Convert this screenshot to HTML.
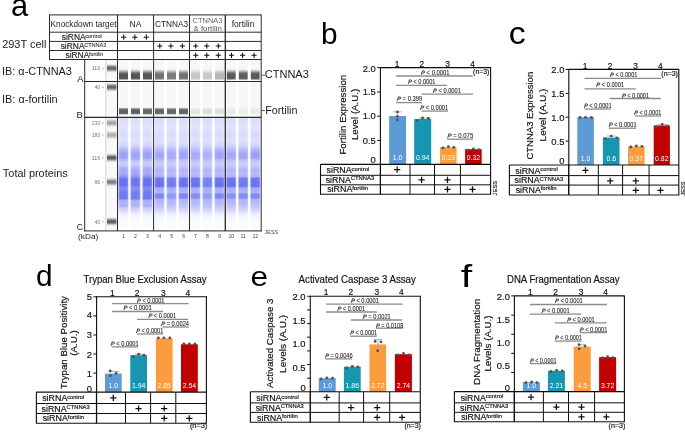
<!DOCTYPE html>
<html><head><meta charset="utf-8"><title>Figure</title>
<style>
html,body{margin:0;padding:0;background:#fff;overflow:hidden;}
svg{display:block;}
text{font-family:"Liberation Sans",sans-serif;}
.ch text{stroke:#1a1a1a;stroke-width:0.18px;}
.ch text[fill="#fff"],.ch text[fill="#000"],.ch text.nos{stroke:none;}
</style></head>
<body>
<svg style="will-change:transform" width="685" height="434" viewBox="0 0 685 434">
<defs><linearGradient id="lg0" x1="0" y1="0" x2="0" y2="1"><stop offset="0.0000" stop-color="rgb(219,221,253)"/><stop offset="0.0488" stop-color="rgb(219,221,253)"/><stop offset="0.0727" stop-color="rgb(226,228,253)"/><stop offset="0.0975" stop-color="rgb(221,223,253)"/><stop offset="0.1436" stop-color="rgb(219,221,253)"/><stop offset="0.1569" stop-color="rgb(212,214,253)"/><stop offset="0.1746" stop-color="rgb(221,223,253)"/><stop offset="0.2145" stop-color="rgb(219,221,253)"/><stop offset="0.2500" stop-color="rgb(205,207,252)"/><stop offset="0.2810" stop-color="rgb(179,184,251)"/><stop offset="0.3165" stop-color="rgb(154,160,249)"/><stop offset="0.3520" stop-color="rgb(154,160,249)"/><stop offset="0.3785" stop-color="rgb(183,187,251)"/><stop offset="0.4007" stop-color="rgb(201,204,252)"/><stop offset="0.4273" stop-color="rgb(192,196,252)"/><stop offset="0.4539" stop-color="rgb(165,170,250)"/><stop offset="0.4894" stop-color="rgb(161,167,250)"/><stop offset="0.5160" stop-color="rgb(147,153,249)"/><stop offset="0.5426" stop-color="rgb(102,110,246)"/><stop offset="0.5957" stop-color="rgb(98,107,246)"/><stop offset="0.6179" stop-color="rgb(125,133,248)"/><stop offset="0.6401" stop-color="rgb(129,136,248)"/><stop offset="0.6578" stop-color="rgb(111,119,247)"/><stop offset="0.7154" stop-color="rgb(107,116,247)"/><stop offset="0.7332" stop-color="rgb(165,170,250)"/><stop offset="0.7553" stop-color="rgb(174,178,250)"/><stop offset="0.7775" stop-color="rgb(165,170,250)"/><stop offset="0.7996" stop-color="rgb(197,201,252)"/><stop offset="0.8262" stop-color="rgb(215,218,253)"/><stop offset="0.8528" stop-color="rgb(237,238,254)"/><stop offset="0.8794" stop-color="rgb(246,246,254)"/><stop offset="0.9415" stop-color="rgb(250,250,255)"/><stop offset="1.0000" stop-color="rgb(253,253,255)"/></linearGradient>
<linearGradient id="lg1" x1="0" y1="0" x2="0" y2="1"><stop offset="0.0000" stop-color="rgb(220,222,253)"/><stop offset="0.0488" stop-color="rgb(220,222,253)"/><stop offset="0.0727" stop-color="rgb(227,229,253)"/><stop offset="0.0975" stop-color="rgb(222,224,253)"/><stop offset="0.1436" stop-color="rgb(220,222,253)"/><stop offset="0.1569" stop-color="rgb(213,215,253)"/><stop offset="0.1746" stop-color="rgb(222,224,253)"/><stop offset="0.2145" stop-color="rgb(220,222,253)"/><stop offset="0.2500" stop-color="rgb(206,209,252)"/><stop offset="0.2810" stop-color="rgb(182,186,251)"/><stop offset="0.3165" stop-color="rgb(157,163,250)"/><stop offset="0.3520" stop-color="rgb(157,163,250)"/><stop offset="0.3785" stop-color="rgb(185,189,251)"/><stop offset="0.4007" stop-color="rgb(203,206,252)"/><stop offset="0.4273" stop-color="rgb(194,197,252)"/><stop offset="0.4539" stop-color="rgb(168,173,250)"/><stop offset="0.4894" stop-color="rgb(164,169,250)"/><stop offset="0.5160" stop-color="rgb(150,156,249)"/><stop offset="0.5426" stop-color="rgb(107,115,247)"/><stop offset="0.5957" stop-color="rgb(103,112,247)"/><stop offset="0.6179" stop-color="rgb(129,136,248)"/><stop offset="0.6401" stop-color="rgb(133,140,248)"/><stop offset="0.6578" stop-color="rgb(115,123,247)"/><stop offset="0.7154" stop-color="rgb(112,120,247)"/><stop offset="0.7332" stop-color="rgb(168,173,250)"/><stop offset="0.7553" stop-color="rgb(176,181,251)"/><stop offset="0.7775" stop-color="rgb(168,173,250)"/><stop offset="0.7996" stop-color="rgb(199,202,252)"/><stop offset="0.8262" stop-color="rgb(217,219,253)"/><stop offset="0.8528" stop-color="rgb(238,239,254)"/><stop offset="0.8794" stop-color="rgb(246,247,255)"/><stop offset="0.9415" stop-color="rgb(250,250,255)"/><stop offset="1.0000" stop-color="rgb(253,253,255)"/></linearGradient>
<linearGradient id="lg2" x1="0" y1="0" x2="0" y2="1"><stop offset="0.0000" stop-color="rgb(219,221,253)"/><stop offset="0.0488" stop-color="rgb(219,221,253)"/><stop offset="0.0727" stop-color="rgb(226,228,253)"/><stop offset="0.0975" stop-color="rgb(221,223,253)"/><stop offset="0.1436" stop-color="rgb(219,221,253)"/><stop offset="0.1569" stop-color="rgb(212,214,253)"/><stop offset="0.1746" stop-color="rgb(221,223,253)"/><stop offset="0.2145" stop-color="rgb(219,221,253)"/><stop offset="0.2500" stop-color="rgb(205,207,252)"/><stop offset="0.2810" stop-color="rgb(179,184,251)"/><stop offset="0.3165" stop-color="rgb(154,160,249)"/><stop offset="0.3520" stop-color="rgb(154,160,249)"/><stop offset="0.3785" stop-color="rgb(183,187,251)"/><stop offset="0.4007" stop-color="rgb(201,204,252)"/><stop offset="0.4273" stop-color="rgb(192,196,252)"/><stop offset="0.4539" stop-color="rgb(165,170,250)"/><stop offset="0.4894" stop-color="rgb(161,167,250)"/><stop offset="0.5160" stop-color="rgb(147,153,249)"/><stop offset="0.5426" stop-color="rgb(102,110,246)"/><stop offset="0.5957" stop-color="rgb(98,107,246)"/><stop offset="0.6179" stop-color="rgb(125,133,248)"/><stop offset="0.6401" stop-color="rgb(129,136,248)"/><stop offset="0.6578" stop-color="rgb(111,119,247)"/><stop offset="0.7154" stop-color="rgb(107,116,247)"/><stop offset="0.7332" stop-color="rgb(165,170,250)"/><stop offset="0.7553" stop-color="rgb(174,178,250)"/><stop offset="0.7775" stop-color="rgb(165,170,250)"/><stop offset="0.7996" stop-color="rgb(197,201,252)"/><stop offset="0.8262" stop-color="rgb(215,218,253)"/><stop offset="0.8528" stop-color="rgb(237,238,254)"/><stop offset="0.8794" stop-color="rgb(246,246,254)"/><stop offset="0.9415" stop-color="rgb(250,250,255)"/><stop offset="1.0000" stop-color="rgb(253,253,255)"/></linearGradient>
<linearGradient id="lg3" x1="0" y1="0" x2="0" y2="1"><stop offset="0.0000" stop-color="rgb(219,221,253)"/><stop offset="0.0488" stop-color="rgb(219,221,253)"/><stop offset="0.0727" stop-color="rgb(226,228,253)"/><stop offset="0.0975" stop-color="rgb(221,223,253)"/><stop offset="0.1436" stop-color="rgb(219,221,253)"/><stop offset="0.1569" stop-color="rgb(212,214,253)"/><stop offset="0.1746" stop-color="rgb(221,223,253)"/><stop offset="0.2145" stop-color="rgb(219,221,253)"/><stop offset="0.2500" stop-color="rgb(206,209,252)"/><stop offset="0.2810" stop-color="rgb(183,187,251)"/><stop offset="0.3165" stop-color="rgb(161,166,250)"/><stop offset="0.3520" stop-color="rgb(161,166,250)"/><stop offset="0.3785" stop-color="rgb(187,190,251)"/><stop offset="0.4007" stop-color="rgb(201,204,252)"/><stop offset="0.4273" stop-color="rgb(196,199,252)"/><stop offset="0.4539" stop-color="rgb(179,184,251)"/><stop offset="0.4716" stop-color="rgb(174,178,250)"/><stop offset="0.4894" stop-color="rgb(183,187,251)"/><stop offset="0.5204" stop-color="rgb(174,178,250)"/><stop offset="0.5363" stop-color="rgb(107,116,247)"/><stop offset="0.6073" stop-color="rgb(100,109,246)"/><stop offset="0.6223" stop-color="rgb(165,170,250)"/><stop offset="0.6622" stop-color="rgb(172,177,250)"/><stop offset="0.6782" stop-color="rgb(125,133,248)"/><stop offset="0.7092" stop-color="rgb(125,133,248)"/><stop offset="0.7252" stop-color="rgb(176,180,251)"/><stop offset="0.7553" stop-color="rgb(179,184,251)"/><stop offset="0.7819" stop-color="rgb(190,194,251)"/><stop offset="0.8085" stop-color="rgb(205,207,252)"/><stop offset="0.8351" stop-color="rgb(224,226,253)"/><stop offset="0.8617" stop-color="rgb(239,240,254)"/><stop offset="0.9060" stop-color="rgb(248,248,255)"/><stop offset="1.0000" stop-color="rgb(253,253,255)"/></linearGradient>
<linearGradient id="lg4" x1="0" y1="0" x2="0" y2="1"><stop offset="0.0000" stop-color="rgb(219,221,253)"/><stop offset="0.0488" stop-color="rgb(219,221,253)"/><stop offset="0.0727" stop-color="rgb(226,228,253)"/><stop offset="0.0975" stop-color="rgb(221,223,253)"/><stop offset="0.1436" stop-color="rgb(219,221,253)"/><stop offset="0.1569" stop-color="rgb(212,214,253)"/><stop offset="0.1746" stop-color="rgb(221,223,253)"/><stop offset="0.2145" stop-color="rgb(219,221,253)"/><stop offset="0.2500" stop-color="rgb(206,209,252)"/><stop offset="0.2810" stop-color="rgb(185,189,251)"/><stop offset="0.3165" stop-color="rgb(164,169,250)"/><stop offset="0.3520" stop-color="rgb(164,169,250)"/><stop offset="0.3785" stop-color="rgb(187,190,251)"/><stop offset="0.4007" stop-color="rgb(201,204,252)"/><stop offset="0.4273" stop-color="rgb(196,199,252)"/><stop offset="0.4539" stop-color="rgb(179,184,251)"/><stop offset="0.4716" stop-color="rgb(174,178,250)"/><stop offset="0.4894" stop-color="rgb(183,187,251)"/><stop offset="0.5204" stop-color="rgb(174,178,250)"/><stop offset="0.5363" stop-color="rgb(115,123,247)"/><stop offset="0.6073" stop-color="rgb(108,116,247)"/><stop offset="0.6223" stop-color="rgb(165,170,250)"/><stop offset="0.6622" stop-color="rgb(172,177,250)"/><stop offset="0.6782" stop-color="rgb(143,149,249)"/><stop offset="0.7092" stop-color="rgb(143,149,249)"/><stop offset="0.7252" stop-color="rgb(176,180,251)"/><stop offset="0.7553" stop-color="rgb(179,184,251)"/><stop offset="0.7819" stop-color="rgb(190,194,251)"/><stop offset="0.8085" stop-color="rgb(205,207,252)"/><stop offset="0.8351" stop-color="rgb(224,226,253)"/><stop offset="0.8617" stop-color="rgb(239,240,254)"/><stop offset="0.9060" stop-color="rgb(248,248,255)"/><stop offset="1.0000" stop-color="rgb(253,253,255)"/></linearGradient>
<linearGradient id="lg5" x1="0" y1="0" x2="0" y2="1"><stop offset="0.0000" stop-color="rgb(219,221,253)"/><stop offset="0.0488" stop-color="rgb(219,221,253)"/><stop offset="0.0727" stop-color="rgb(226,228,253)"/><stop offset="0.0975" stop-color="rgb(221,223,253)"/><stop offset="0.1436" stop-color="rgb(219,221,253)"/><stop offset="0.1569" stop-color="rgb(212,214,253)"/><stop offset="0.1746" stop-color="rgb(221,223,253)"/><stop offset="0.2145" stop-color="rgb(219,221,253)"/><stop offset="0.2500" stop-color="rgb(206,209,252)"/><stop offset="0.2810" stop-color="rgb(179,184,251)"/><stop offset="0.3165" stop-color="rgb(156,162,250)"/><stop offset="0.3520" stop-color="rgb(156,162,250)"/><stop offset="0.3785" stop-color="rgb(187,190,251)"/><stop offset="0.4007" stop-color="rgb(201,204,252)"/><stop offset="0.4273" stop-color="rgb(196,199,252)"/><stop offset="0.4539" stop-color="rgb(179,184,251)"/><stop offset="0.4716" stop-color="rgb(174,178,250)"/><stop offset="0.4894" stop-color="rgb(183,187,251)"/><stop offset="0.5204" stop-color="rgb(174,178,250)"/><stop offset="0.5363" stop-color="rgb(107,116,247)"/><stop offset="0.6073" stop-color="rgb(100,109,246)"/><stop offset="0.6223" stop-color="rgb(165,170,250)"/><stop offset="0.6622" stop-color="rgb(172,177,250)"/><stop offset="0.6782" stop-color="rgb(123,131,248)"/><stop offset="0.7092" stop-color="rgb(123,131,248)"/><stop offset="0.7252" stop-color="rgb(176,180,251)"/><stop offset="0.7553" stop-color="rgb(179,184,251)"/><stop offset="0.7819" stop-color="rgb(190,194,251)"/><stop offset="0.8085" stop-color="rgb(205,207,252)"/><stop offset="0.8351" stop-color="rgb(224,226,253)"/><stop offset="0.8617" stop-color="rgb(239,240,254)"/><stop offset="0.9060" stop-color="rgb(248,248,255)"/><stop offset="1.0000" stop-color="rgb(253,253,255)"/></linearGradient>
<linearGradient id="lg6" x1="0" y1="0" x2="0" y2="1"><stop offset="0.0000" stop-color="rgb(219,221,253)"/><stop offset="0.0488" stop-color="rgb(219,221,253)"/><stop offset="0.0727" stop-color="rgb(226,228,253)"/><stop offset="0.0975" stop-color="rgb(221,223,253)"/><stop offset="0.1436" stop-color="rgb(219,221,253)"/><stop offset="0.1569" stop-color="rgb(212,214,253)"/><stop offset="0.1746" stop-color="rgb(221,223,253)"/><stop offset="0.2145" stop-color="rgb(219,221,253)"/><stop offset="0.2500" stop-color="rgb(206,209,252)"/><stop offset="0.2810" stop-color="rgb(187,191,251)"/><stop offset="0.3165" stop-color="rgb(166,171,250)"/><stop offset="0.3520" stop-color="rgb(166,171,250)"/><stop offset="0.3785" stop-color="rgb(187,190,251)"/><stop offset="0.4007" stop-color="rgb(201,204,252)"/><stop offset="0.4273" stop-color="rgb(196,199,252)"/><stop offset="0.4539" stop-color="rgb(179,184,251)"/><stop offset="0.4716" stop-color="rgb(174,178,250)"/><stop offset="0.4894" stop-color="rgb(183,187,251)"/><stop offset="0.5204" stop-color="rgb(174,178,250)"/><stop offset="0.5363" stop-color="rgb(107,116,247)"/><stop offset="0.6073" stop-color="rgb(100,109,246)"/><stop offset="0.6223" stop-color="rgb(165,170,250)"/><stop offset="0.6622" stop-color="rgb(172,177,250)"/><stop offset="0.6782" stop-color="rgb(129,136,248)"/><stop offset="0.7092" stop-color="rgb(129,136,248)"/><stop offset="0.7252" stop-color="rgb(176,180,251)"/><stop offset="0.7553" stop-color="rgb(179,184,251)"/><stop offset="0.7819" stop-color="rgb(190,194,251)"/><stop offset="0.8085" stop-color="rgb(205,207,252)"/><stop offset="0.8351" stop-color="rgb(224,226,253)"/><stop offset="0.8617" stop-color="rgb(239,240,254)"/><stop offset="0.9060" stop-color="rgb(248,248,255)"/><stop offset="1.0000" stop-color="rgb(253,253,255)"/></linearGradient>
<linearGradient id="lg7" x1="0" y1="0" x2="0" y2="1"><stop offset="0.0000" stop-color="rgb(219,221,253)"/><stop offset="0.0488" stop-color="rgb(219,221,253)"/><stop offset="0.0727" stop-color="rgb(226,228,253)"/><stop offset="0.0975" stop-color="rgb(221,223,253)"/><stop offset="0.1436" stop-color="rgb(219,221,253)"/><stop offset="0.1569" stop-color="rgb(212,214,253)"/><stop offset="0.1746" stop-color="rgb(221,223,253)"/><stop offset="0.2145" stop-color="rgb(219,221,253)"/><stop offset="0.2500" stop-color="rgb(206,209,252)"/><stop offset="0.2810" stop-color="rgb(191,194,251)"/><stop offset="0.3165" stop-color="rgb(171,176,250)"/><stop offset="0.3520" stop-color="rgb(171,176,250)"/><stop offset="0.3785" stop-color="rgb(187,190,251)"/><stop offset="0.4007" stop-color="rgb(201,204,252)"/><stop offset="0.4273" stop-color="rgb(196,199,252)"/><stop offset="0.4539" stop-color="rgb(179,184,251)"/><stop offset="0.4716" stop-color="rgb(174,178,250)"/><stop offset="0.4894" stop-color="rgb(183,187,251)"/><stop offset="0.5204" stop-color="rgb(174,178,250)"/><stop offset="0.5363" stop-color="rgb(122,130,248)"/><stop offset="0.6073" stop-color="rgb(116,123,247)"/><stop offset="0.6223" stop-color="rgb(165,170,250)"/><stop offset="0.6622" stop-color="rgb(172,177,250)"/><stop offset="0.6782" stop-color="rgb(147,153,249)"/><stop offset="0.7092" stop-color="rgb(147,153,249)"/><stop offset="0.7252" stop-color="rgb(176,180,251)"/><stop offset="0.7553" stop-color="rgb(179,184,251)"/><stop offset="0.7819" stop-color="rgb(190,194,251)"/><stop offset="0.8085" stop-color="rgb(205,207,252)"/><stop offset="0.8351" stop-color="rgb(224,226,253)"/><stop offset="0.8617" stop-color="rgb(239,240,254)"/><stop offset="0.9060" stop-color="rgb(248,248,255)"/><stop offset="1.0000" stop-color="rgb(253,253,255)"/></linearGradient>
<linearGradient id="lg8" x1="0" y1="0" x2="0" y2="1"><stop offset="0.0000" stop-color="rgb(219,221,253)"/><stop offset="0.0488" stop-color="rgb(219,221,253)"/><stop offset="0.0727" stop-color="rgb(226,228,253)"/><stop offset="0.0975" stop-color="rgb(221,223,253)"/><stop offset="0.1436" stop-color="rgb(219,221,253)"/><stop offset="0.1569" stop-color="rgb(212,214,253)"/><stop offset="0.1746" stop-color="rgb(221,223,253)"/><stop offset="0.2145" stop-color="rgb(219,221,253)"/><stop offset="0.2500" stop-color="rgb(206,209,252)"/><stop offset="0.2810" stop-color="rgb(179,184,251)"/><stop offset="0.3165" stop-color="rgb(156,162,250)"/><stop offset="0.3520" stop-color="rgb(156,162,250)"/><stop offset="0.3785" stop-color="rgb(187,190,251)"/><stop offset="0.4007" stop-color="rgb(201,204,252)"/><stop offset="0.4273" stop-color="rgb(196,199,252)"/><stop offset="0.4539" stop-color="rgb(179,184,251)"/><stop offset="0.4716" stop-color="rgb(174,178,250)"/><stop offset="0.4894" stop-color="rgb(183,187,251)"/><stop offset="0.5204" stop-color="rgb(174,178,250)"/><stop offset="0.5363" stop-color="rgb(107,116,247)"/><stop offset="0.6073" stop-color="rgb(100,109,246)"/><stop offset="0.6223" stop-color="rgb(165,170,250)"/><stop offset="0.6622" stop-color="rgb(172,177,250)"/><stop offset="0.6782" stop-color="rgb(125,133,248)"/><stop offset="0.7092" stop-color="rgb(125,133,248)"/><stop offset="0.7252" stop-color="rgb(176,180,251)"/><stop offset="0.7553" stop-color="rgb(179,184,251)"/><stop offset="0.7819" stop-color="rgb(190,194,251)"/><stop offset="0.8085" stop-color="rgb(205,207,252)"/><stop offset="0.8351" stop-color="rgb(224,226,253)"/><stop offset="0.8617" stop-color="rgb(239,240,254)"/><stop offset="0.9060" stop-color="rgb(248,248,255)"/><stop offset="1.0000" stop-color="rgb(253,253,255)"/></linearGradient>
<linearGradient id="lg9" x1="0" y1="0" x2="0" y2="1"><stop offset="0.0000" stop-color="rgb(219,221,253)"/><stop offset="0.0488" stop-color="rgb(219,221,253)"/><stop offset="0.0727" stop-color="rgb(226,228,253)"/><stop offset="0.0975" stop-color="rgb(221,223,253)"/><stop offset="0.1436" stop-color="rgb(219,221,253)"/><stop offset="0.1569" stop-color="rgb(212,214,253)"/><stop offset="0.1746" stop-color="rgb(221,223,253)"/><stop offset="0.2145" stop-color="rgb(219,221,253)"/><stop offset="0.2500" stop-color="rgb(206,209,252)"/><stop offset="0.2810" stop-color="rgb(183,187,251)"/><stop offset="0.3165" stop-color="rgb(161,166,250)"/><stop offset="0.3520" stop-color="rgb(161,166,250)"/><stop offset="0.3785" stop-color="rgb(187,190,251)"/><stop offset="0.4007" stop-color="rgb(201,204,252)"/><stop offset="0.4273" stop-color="rgb(196,199,252)"/><stop offset="0.4539" stop-color="rgb(179,184,251)"/><stop offset="0.4716" stop-color="rgb(174,178,250)"/><stop offset="0.4894" stop-color="rgb(183,187,251)"/><stop offset="0.5204" stop-color="rgb(174,178,250)"/><stop offset="0.5363" stop-color="rgb(107,116,247)"/><stop offset="0.6073" stop-color="rgb(100,109,246)"/><stop offset="0.6223" stop-color="rgb(165,170,250)"/><stop offset="0.6622" stop-color="rgb(172,177,250)"/><stop offset="0.6782" stop-color="rgb(135,142,248)"/><stop offset="0.7092" stop-color="rgb(135,142,248)"/><stop offset="0.7252" stop-color="rgb(176,180,251)"/><stop offset="0.7553" stop-color="rgb(179,184,251)"/><stop offset="0.7819" stop-color="rgb(190,194,251)"/><stop offset="0.8085" stop-color="rgb(205,207,252)"/><stop offset="0.8351" stop-color="rgb(224,226,253)"/><stop offset="0.8617" stop-color="rgb(239,240,254)"/><stop offset="0.9060" stop-color="rgb(248,248,255)"/><stop offset="1.0000" stop-color="rgb(253,253,255)"/></linearGradient>
<linearGradient id="lg10" x1="0" y1="0" x2="0" y2="1"><stop offset="0.0000" stop-color="rgb(219,221,253)"/><stop offset="0.0488" stop-color="rgb(219,221,253)"/><stop offset="0.0727" stop-color="rgb(226,228,253)"/><stop offset="0.0975" stop-color="rgb(221,223,253)"/><stop offset="0.1436" stop-color="rgb(219,221,253)"/><stop offset="0.1569" stop-color="rgb(212,214,253)"/><stop offset="0.1746" stop-color="rgb(221,223,253)"/><stop offset="0.2145" stop-color="rgb(219,221,253)"/><stop offset="0.2500" stop-color="rgb(206,209,252)"/><stop offset="0.2810" stop-color="rgb(183,187,251)"/><stop offset="0.3165" stop-color="rgb(161,166,250)"/><stop offset="0.3520" stop-color="rgb(161,166,250)"/><stop offset="0.3785" stop-color="rgb(187,190,251)"/><stop offset="0.4007" stop-color="rgb(201,204,252)"/><stop offset="0.4273" stop-color="rgb(196,199,252)"/><stop offset="0.4539" stop-color="rgb(179,184,251)"/><stop offset="0.4716" stop-color="rgb(174,178,250)"/><stop offset="0.4894" stop-color="rgb(183,187,251)"/><stop offset="0.5204" stop-color="rgb(174,178,250)"/><stop offset="0.5363" stop-color="rgb(115,123,247)"/><stop offset="0.6073" stop-color="rgb(108,116,247)"/><stop offset="0.6223" stop-color="rgb(165,170,250)"/><stop offset="0.6622" stop-color="rgb(172,177,250)"/><stop offset="0.6782" stop-color="rgb(129,136,248)"/><stop offset="0.7092" stop-color="rgb(129,136,248)"/><stop offset="0.7252" stop-color="rgb(176,180,251)"/><stop offset="0.7553" stop-color="rgb(179,184,251)"/><stop offset="0.7819" stop-color="rgb(190,194,251)"/><stop offset="0.8085" stop-color="rgb(205,207,252)"/><stop offset="0.8351" stop-color="rgb(224,226,253)"/><stop offset="0.8617" stop-color="rgb(239,240,254)"/><stop offset="0.9060" stop-color="rgb(248,248,255)"/><stop offset="1.0000" stop-color="rgb(253,253,255)"/></linearGradient>
<linearGradient id="lg11" x1="0" y1="0" x2="0" y2="1"><stop offset="0.0000" stop-color="rgb(219,221,253)"/><stop offset="0.0488" stop-color="rgb(219,221,253)"/><stop offset="0.0727" stop-color="rgb(226,228,253)"/><stop offset="0.0975" stop-color="rgb(221,223,253)"/><stop offset="0.1436" stop-color="rgb(219,221,253)"/><stop offset="0.1569" stop-color="rgb(212,214,253)"/><stop offset="0.1746" stop-color="rgb(221,223,253)"/><stop offset="0.2145" stop-color="rgb(219,221,253)"/><stop offset="0.2500" stop-color="rgb(206,209,252)"/><stop offset="0.2810" stop-color="rgb(176,180,251)"/><stop offset="0.3165" stop-color="rgb(151,157,249)"/><stop offset="0.3520" stop-color="rgb(151,157,249)"/><stop offset="0.3785" stop-color="rgb(187,190,251)"/><stop offset="0.4007" stop-color="rgb(201,204,252)"/><stop offset="0.4273" stop-color="rgb(196,199,252)"/><stop offset="0.4539" stop-color="rgb(179,184,251)"/><stop offset="0.4716" stop-color="rgb(174,178,250)"/><stop offset="0.4894" stop-color="rgb(183,187,251)"/><stop offset="0.5204" stop-color="rgb(174,178,250)"/><stop offset="0.5363" stop-color="rgb(107,116,247)"/><stop offset="0.6073" stop-color="rgb(100,109,246)"/><stop offset="0.6223" stop-color="rgb(165,170,250)"/><stop offset="0.6622" stop-color="rgb(172,177,250)"/><stop offset="0.6782" stop-color="rgb(125,133,248)"/><stop offset="0.7092" stop-color="rgb(125,133,248)"/><stop offset="0.7252" stop-color="rgb(176,180,251)"/><stop offset="0.7553" stop-color="rgb(179,184,251)"/><stop offset="0.7819" stop-color="rgb(190,194,251)"/><stop offset="0.8085" stop-color="rgb(205,207,252)"/><stop offset="0.8351" stop-color="rgb(224,226,253)"/><stop offset="0.8617" stop-color="rgb(239,240,254)"/><stop offset="0.9060" stop-color="rgb(248,248,255)"/><stop offset="1.0000" stop-color="rgb(253,253,255)"/></linearGradient>
<linearGradient id="edge" x1="0" y1="0" x2="1" y2="0"><stop offset="0" stop-color="#fff" stop-opacity="0.35"/><stop offset="0.12" stop-color="#fff" stop-opacity="0.05"/><stop offset="0.5" stop-color="#fff" stop-opacity="0"/><stop offset="0.88" stop-color="#fff" stop-opacity="0.05"/><stop offset="1" stop-color="#fff" stop-opacity="0.35"/></linearGradient>
<linearGradient id="gA" x1="0" y1="0" x2="0" y2="1"><stop offset="0" stop-color="#fff" stop-opacity="0"/><stop offset="0.12" stop-color="#fff" stop-opacity="0.18"/><stop offset="0.25" stop-color="#fff" stop-opacity="0.55"/><stop offset="0.38" stop-color="#fff" stop-opacity="0.88"/><stop offset="0.5" stop-color="#fff" stop-opacity="1"/><stop offset="0.85" stop-color="#fff" stop-opacity="1"/><stop offset="0.93" stop-color="#fff" stop-opacity="0.75"/><stop offset="1" stop-color="#fff" stop-opacity="0"/></linearGradient>
<mask id="mA" maskContentUnits="objectBoundingBox"><rect width="1" height="1" fill="url(#gA)"/></mask>
<linearGradient id="gB" x1="0" y1="0" x2="0" y2="1"><stop offset="0" stop-color="#fff" stop-opacity="0"/><stop offset="0.15" stop-color="#fff" stop-opacity="0.5"/><stop offset="0.3" stop-color="#fff" stop-opacity="0.9"/><stop offset="0.6" stop-color="#fff" stop-opacity="1"/><stop offset="0.85" stop-color="#fff" stop-opacity="0.85"/><stop offset="1" stop-color="#fff" stop-opacity="0"/></linearGradient>
<mask id="mB" maskContentUnits="objectBoundingBox"><rect width="1" height="1" fill="url(#gB)"/></mask>
<filter id="blx" x="-20%" y="-20%" width="140%" height="140%"><feGaussianBlur stdDeviation="0.45 0.2"/></filter>
<linearGradient id="fadeA" x1="0" y1="0" x2="0" y2="1"><stop offset="0" stop-color="#f2f2f2" stop-opacity="1"/><stop offset="1" stop-color="#f2f2f2" stop-opacity="0"/></linearGradient>
<filter id="gblur" x="0" y="0" width="685" height="434" filterUnits="userSpaceOnUse"><feGaussianBlur stdDeviation="0.3"/></filter>
<filter id="bl2" x="-30%" y="-60%" width="160%" height="220%"><feGaussianBlur stdDeviation="0.6 0.8"/></filter>
<filter id="bl" x="-20%" y="-50%" width="140%" height="200%"><feGaussianBlur stdDeviation="0.55"/></filter></defs>
<rect width="685" height="434" fill="#fff"/>
<g filter="url(#gblur)">
<text transform="translate(11.12,16.35) scale(1,1.17)" font-size="27" fill="#000" textLength="17.16" lengthAdjust="spacingAndGlyphs">a</text>
<text x="2.17" y="47.9" font-size="10.8" fill="#222" textLength="44.26" lengthAdjust="spacingAndGlyphs">293T cell</text>
<text x="1.98" y="74.8" font-size="10.6" fill="#222" textLength="69.95" lengthAdjust="spacingAndGlyphs">IB: α-CTNNA3</text>
<text x="1.98" y="102.9" font-size="10.6" fill="#222" textLength="55.75" lengthAdjust="spacingAndGlyphs">IB: α-fortilin</text>
<text x="2.86" y="177.1" font-size="11" fill="#222" textLength="64.88" lengthAdjust="spacingAndGlyphs">Total proteins</text>
<text x="50.56" y="27" font-size="8.6" fill="#222" textLength="65.99" lengthAdjust="spacingAndGlyphs">Knockdown target</text>
<text x="135.5" y="26.6" font-size="8.6" fill="#222" text-anchor="middle">NA</text>
<text x="154.96" y="26.6" font-size="8.6" fill="#222" textLength="33.09" lengthAdjust="spacingAndGlyphs">CTNNA3</text>
<text x="192.6" y="22.6" font-size="7.6" fill="#666" textLength="29.91" lengthAdjust="spacingAndGlyphs">CTNNA3</text>
<text x="193.5" y="30.6" font-size="7.6" fill="#555" textLength="28.31" lengthAdjust="spacingAndGlyphs">&amp; fortilin</text>
<text x="231.66" y="26.6" font-size="8.6" fill="#222" textLength="22.89" lengthAdjust="spacingAndGlyphs">fortilin</text>
<text x="61.76" y="40.2" font-size="8.4" fill="#222" textLength="23.87" lengthAdjust="spacingAndGlyphs" style="stroke:#222;stroke-width:0.15px">siRNA</text>
<text x="85.28" y="37.8" font-size="5.6" fill="#333" textLength="16.55" lengthAdjust="spacingAndGlyphs" style="stroke:#333;stroke-width:0.1px">control</text>
<text x="60.66" y="49.2" font-size="8.4" fill="#222" textLength="23.87" lengthAdjust="spacingAndGlyphs" style="stroke:#222;stroke-width:0.15px">siRNA</text>
<text x="84.18" y="46.8" font-size="5.6" fill="#333" textLength="22.25" lengthAdjust="spacingAndGlyphs" style="stroke:#333;stroke-width:0.1px">CTNNA3</text>
<text x="65.46" y="58.1" font-size="8.4" fill="#222" textLength="23.87" lengthAdjust="spacingAndGlyphs" style="stroke:#222;stroke-width:0.15px">siRNA</text>
<text x="88.98" y="55.7" font-size="5.6" fill="#333" textLength="14.35" lengthAdjust="spacingAndGlyphs" style="stroke:#333;stroke-width:0.1px">fortilin</text>
<path d="M121.1 37.2H126.3M123.7 34.6V39.8" stroke="#111" stroke-width="1.05" fill="none"/>
<path d="M132.2 37.2H137.4M134.8 34.6V39.8" stroke="#111" stroke-width="1.05" fill="none"/>
<path d="M143.7 37.2H148.9M146.3 34.6V39.8" stroke="#111" stroke-width="1.05" fill="none"/>
<path d="M157.2 46H162.4M159.8 43.4V48.6" stroke="#111" stroke-width="1.05" fill="none"/>
<path d="M168.3 46H173.5M170.9 43.4V48.6" stroke="#111" stroke-width="1.05" fill="none"/>
<path d="M179.8 46H185M182.4 43.4V48.6" stroke="#111" stroke-width="1.05" fill="none"/>
<path d="M193.1 46H198.3M195.7 43.4V48.6" stroke="#111" stroke-width="1.05" fill="none"/>
<path d="M204.2 46H209.4M206.8 43.4V48.6" stroke="#111" stroke-width="1.05" fill="none"/>
<path d="M215.7 46H220.9M218.3 43.4V48.6" stroke="#111" stroke-width="1.05" fill="none"/>
<path d="M193.1 55.3H198.3M195.7 52.7V57.9" stroke="#111" stroke-width="1.05" fill="none"/>
<path d="M204.2 55.3H209.4M206.8 52.7V57.9" stroke="#111" stroke-width="1.05" fill="none"/>
<path d="M215.7 55.3H220.9M218.3 52.7V57.9" stroke="#111" stroke-width="1.05" fill="none"/>
<path d="M228.9 55.3H234.1M231.5 52.7V57.9" stroke="#111" stroke-width="1.05" fill="none"/>
<path d="M240 55.3H245.2M242.6 52.7V57.9" stroke="#111" stroke-width="1.05" fill="none"/>
<path d="M251.5 55.3H256.7M254.1 52.7V57.9" stroke="#111" stroke-width="1.05" fill="none"/>
<rect x="105.7" y="59.5" width="11.5" height="171.4" fill="#f8f8f8"/>
<line x1="105.8" y1="59.5" x2="105.8" y2="230.9" stroke="#c4c4c4" stroke-width="0.7"/>
<rect x="118.7" y="59.5" width="9.4" height="57.8" fill="#f7f7f7"/>
<rect x="130.7" y="59.5" width="9.4" height="57.8" fill="#f7f7f7"/>
<rect x="142.7" y="59.5" width="9.4" height="57.8" fill="#f7f7f7"/>
<rect x="154.8" y="59.5" width="9.4" height="57.8" fill="#f7f7f7"/>
<rect x="166.8" y="59.5" width="9.4" height="57.8" fill="#f7f7f7"/>
<rect x="178.8" y="59.5" width="9.4" height="57.8" fill="#f7f7f7"/>
<rect x="190.7" y="59.5" width="9.4" height="57.8" fill="#f7f7f7"/>
<rect x="202.7" y="59.5" width="9.4" height="57.8" fill="#f7f7f7"/>
<rect x="214.7" y="59.5" width="9.4" height="57.8" fill="#f7f7f7"/>
<rect x="226.5" y="59.5" width="9.4" height="57.8" fill="#f7f7f7"/>
<rect x="238.5" y="59.5" width="9.4" height="57.8" fill="#f7f7f7"/>
<rect x="250.5" y="59.5" width="9.4" height="57.8" fill="#f7f7f7"/>
<rect x="118.8" y="68.9" width="9.2" height="11.1" fill="#555" mask="url(#mA)" filter="url(#blx)"/>
<rect x="130.8" y="68.9" width="9.2" height="11.1" fill="#555" mask="url(#mA)" filter="url(#blx)"/>
<rect x="142.8" y="68.9" width="9.2" height="11.1" fill="#575757" mask="url(#mA)" filter="url(#blx)"/>
<rect x="154.9" y="68.9" width="9.2" height="11.1" fill="#737373" mask="url(#mA)" filter="url(#blx)"/>
<rect x="166.9" y="68.9" width="9.2" height="11.1" fill="#7c7c7c" mask="url(#mA)" filter="url(#blx)"/>
<rect x="178.9" y="68.9" width="9.2" height="11.1" fill="#717171" mask="url(#mA)" filter="url(#blx)"/>
<rect x="190.8" y="68.9" width="9.2" height="11.1" fill="#c6c6c6" mask="url(#mA)" filter="url(#blx)"/>
<rect x="202.8" y="68.9" width="9.2" height="11.1" fill="#c8c8c8" mask="url(#mA)" filter="url(#blx)"/>
<rect x="214.8" y="68.9" width="9.2" height="11.1" fill="#b6b6b6" mask="url(#mA)" filter="url(#blx)"/>
<rect x="226.6" y="68.9" width="9.2" height="11.1" fill="#5a5a5a" mask="url(#mA)" filter="url(#blx)"/>
<rect x="238.6" y="68.9" width="9.2" height="11.1" fill="#5c5c5c" mask="url(#mA)" filter="url(#blx)"/>
<rect x="250.6" y="68.9" width="9.2" height="11.1" fill="#585858" mask="url(#mA)" filter="url(#blx)"/>
<rect x="118.8" y="107.3" width="9.2" height="7.6" fill="#5a5a5a" mask="url(#mB)" filter="url(#blx)"/>
<rect x="130.8" y="107.3" width="9.2" height="7.6" fill="#595959" mask="url(#mB)" filter="url(#blx)"/>
<rect x="142.8" y="107.3" width="9.2" height="7.6" fill="#646464" mask="url(#mB)" filter="url(#blx)"/>
<rect x="154.9" y="107.3" width="9.2" height="7.6" fill="#5f5f5f" mask="url(#mB)" filter="url(#blx)"/>
<rect x="166.9" y="107.3" width="9.2" height="7.6" fill="#646464" mask="url(#mB)" filter="url(#blx)"/>
<rect x="178.9" y="107.3" width="9.2" height="7.6" fill="#5d5d5d" mask="url(#mB)" filter="url(#blx)"/>
<rect x="190.8" y="107.3" width="9.2" height="7.6" fill="#e4e4e4" mask="url(#mB)" filter="url(#blx)"/>
<rect x="202.8" y="107.3" width="9.2" height="7.6" fill="#dddddd" mask="url(#mB)" filter="url(#blx)"/>
<rect x="214.8" y="107.3" width="9.2" height="7.6" fill="#dcdcdc" mask="url(#mB)" filter="url(#blx)"/>
<rect x="226.6" y="107.3" width="9.2" height="7.6" fill="#e6e6e6" mask="url(#mB)" filter="url(#blx)"/>
<rect x="238.6" y="107.3" width="9.2" height="7.6" fill="#ebebeb" mask="url(#mB)" filter="url(#blx)"/>
<rect x="250.6" y="107.3" width="9.2" height="7.6" fill="#e8e8e8" mask="url(#mB)" filter="url(#blx)"/>
<rect x="107" y="65.8" width="9.4" height="4.8" fill="#5e5e5e" filter="url(#bl2)"/>
<rect x="107" y="84.8" width="9.4" height="4.8" fill="#606060" filter="url(#bl2)"/>
<rect x="107" y="120.5" width="9.4" height="4.8" fill="#a0a0a0" filter="url(#bl2)"/>
<rect x="107" y="132.6" width="9.4" height="4.8" fill="#acacac" filter="url(#bl2)"/>
<rect x="107" y="155.4" width="9.4" height="4.8" fill="#5a5a5a" filter="url(#bl2)"/>
<rect x="107" y="179.6" width="9.4" height="4.8" fill="#787878" filter="url(#bl2)"/>
<rect x="107" y="219.2" width="9.4" height="4.8" fill="#5a5a5a" filter="url(#bl2)"/>
<text x="91.81" y="70.2" font-size="6" fill="#777" textLength="8.43" lengthAdjust="spacingAndGlyphs">116</text>
<line x1="101.9" y1="68.3" x2="103.7" y2="68.3" stroke="#8a8a8a" stroke-width="0.7"/>
<text x="94.46" y="89.2" font-size="6" fill="#777" textLength="5.78" lengthAdjust="spacingAndGlyphs">40</text>
<line x1="101.9" y1="87.3" x2="103.7" y2="87.3" stroke="#8a8a8a" stroke-width="0.7"/>
<text x="91.81" y="124.9" font-size="6" fill="#777" textLength="8.43" lengthAdjust="spacingAndGlyphs">230</text>
<line x1="101.9" y1="123" x2="103.7" y2="123" stroke="#8a8a8a" stroke-width="0.7"/>
<text x="91.81" y="137" font-size="6" fill="#777" textLength="8.43" lengthAdjust="spacingAndGlyphs">180</text>
<line x1="101.9" y1="135.1" x2="103.7" y2="135.1" stroke="#8a8a8a" stroke-width="0.7"/>
<text x="91.81" y="159.8" font-size="6" fill="#777" textLength="8.43" lengthAdjust="spacingAndGlyphs">116</text>
<line x1="101.9" y1="157.9" x2="103.7" y2="157.9" stroke="#8a8a8a" stroke-width="0.7"/>
<text x="94.46" y="184" font-size="6" fill="#777" textLength="5.78" lengthAdjust="spacingAndGlyphs">66</text>
<line x1="101.9" y1="182.1" x2="103.7" y2="182.1" stroke="#8a8a8a" stroke-width="0.7"/>
<text x="94.46" y="223.6" font-size="6" fill="#777" textLength="5.78" lengthAdjust="spacingAndGlyphs">40</text>
<line x1="101.9" y1="221.7" x2="103.7" y2="221.7" stroke="#8a8a8a" stroke-width="0.7"/>
<rect x="118.5" y="117.8" width="9.8" height="112.8" fill="url(#lg0)"/>
<rect x="118.5" y="117.8" width="9.8" height="112.8" fill="url(#edge)"/>
<rect x="130.5" y="117.8" width="9.8" height="112.8" fill="url(#lg1)"/>
<rect x="130.5" y="117.8" width="9.8" height="112.8" fill="url(#edge)"/>
<rect x="142.5" y="117.8" width="9.8" height="112.8" fill="url(#lg2)"/>
<rect x="142.5" y="117.8" width="9.8" height="112.8" fill="url(#edge)"/>
<rect x="154.6" y="117.8" width="9.8" height="112.8" fill="url(#lg3)"/>
<rect x="154.6" y="117.8" width="9.8" height="112.8" fill="url(#edge)"/>
<rect x="166.6" y="117.8" width="9.8" height="112.8" fill="url(#lg4)"/>
<rect x="166.6" y="117.8" width="9.8" height="112.8" fill="url(#edge)"/>
<rect x="178.6" y="117.8" width="9.8" height="112.8" fill="url(#lg5)"/>
<rect x="178.6" y="117.8" width="9.8" height="112.8" fill="url(#edge)"/>
<rect x="190.5" y="117.8" width="9.8" height="112.8" fill="url(#lg6)"/>
<rect x="190.5" y="117.8" width="9.8" height="112.8" fill="url(#edge)"/>
<rect x="202.5" y="117.8" width="9.8" height="112.8" fill="url(#lg7)"/>
<rect x="202.5" y="117.8" width="9.8" height="112.8" fill="url(#edge)"/>
<rect x="214.5" y="117.8" width="9.8" height="112.8" fill="url(#lg8)"/>
<rect x="214.5" y="117.8" width="9.8" height="112.8" fill="url(#edge)"/>
<rect x="226.3" y="117.8" width="9.8" height="112.8" fill="url(#lg9)"/>
<rect x="226.3" y="117.8" width="9.8" height="112.8" fill="url(#edge)"/>
<rect x="238.3" y="117.8" width="9.8" height="112.8" fill="url(#lg10)"/>
<rect x="238.3" y="117.8" width="9.8" height="112.8" fill="url(#edge)"/>
<rect x="250.3" y="117.8" width="9.8" height="112.8" fill="url(#lg11)"/>
<rect x="250.3" y="117.8" width="9.8" height="112.8" fill="url(#edge)"/>
<line x1="49.5" y1="14.9" x2="261.2" y2="14.9" stroke="#2a2a2a" stroke-width="1"/>
<line x1="49.5" y1="32.2" x2="261.2" y2="32.2" stroke="#2a2a2a" stroke-width="1"/>
<line x1="49.5" y1="41.4" x2="261.2" y2="41.4" stroke="#2a2a2a" stroke-width="1"/>
<line x1="49.5" y1="50.5" x2="261.2" y2="50.5" stroke="#2a2a2a" stroke-width="1"/>
<line x1="49.5" y1="59.5" x2="261.2" y2="59.5" stroke="#2a2a2a" stroke-width="1"/>
<line x1="49.5" y1="14.4" x2="49.5" y2="60" stroke="#2a2a2a" stroke-width="1"/>
<line x1="84.7" y1="59.5" x2="84.7" y2="231.4" stroke="#2a2a2a" stroke-width="1"/>
<line x1="117.5" y1="14.9" x2="117.5" y2="230.9" stroke="#2a2a2a" stroke-width="1"/>
<line x1="153.6" y1="14.9" x2="153.6" y2="230.9" stroke="#2a2a2a" stroke-width="1"/>
<line x1="189.5" y1="14.9" x2="189.5" y2="230.9" stroke="#2a2a2a" stroke-width="1"/>
<line x1="225.3" y1="14.9" x2="225.3" y2="230.9" stroke="#2a2a2a" stroke-width="1.3"/>
<line x1="261.2" y1="14.4" x2="261.2" y2="231.4" stroke="#2a2a2a" stroke-width="1"/>
<line x1="84.7" y1="81.5" x2="261.2" y2="81.5" stroke="#2a2a2a" stroke-width="1"/>
<line x1="84.7" y1="117.3" x2="261.2" y2="117.3" stroke="#2a2a2a" stroke-width="1.3"/>
<line x1="84.2" y1="230.9" x2="261.7" y2="230.9" stroke="#2a2a2a" stroke-width="1"/>
<text x="77.17" y="81.6" font-size="8.2" fill="#222" textLength="6.26" lengthAdjust="spacingAndGlyphs">A</text>
<text x="76.47" y="117.8" font-size="8.2" fill="#222" textLength="6.26" lengthAdjust="spacingAndGlyphs">B</text>
<text x="76.87" y="230.4" font-size="8.2" fill="#222" textLength="6.26" lengthAdjust="spacingAndGlyphs">C</text>
<text x="78.11" y="238.6" font-size="7.2" fill="#222" textLength="20.28" lengthAdjust="spacingAndGlyphs">(kDa)</text>
<line x1="261.6" y1="75.2" x2="265" y2="75.2" stroke="#333" stroke-width="0.8"/>
<text x="264.78" y="78.4" font-size="10.5" fill="#222" textLength="44.04" lengthAdjust="spacingAndGlyphs">CTNNA3</text>
<line x1="261.6" y1="110.6" x2="265" y2="110.6" stroke="#333" stroke-width="0.8"/>
<text x="265.18" y="113.7" font-size="10.5" fill="#222" textLength="32.24" lengthAdjust="spacingAndGlyphs">Fortilin</text>
<text x="123.5" y="238" font-size="5.2" fill="#444" text-anchor="middle">1</text>
<text x="135.5" y="238" font-size="5.2" fill="#444" text-anchor="middle">2</text>
<text x="147.5" y="238" font-size="5.2" fill="#444" text-anchor="middle">3</text>
<text x="159.6" y="238" font-size="5.2" fill="#444" text-anchor="middle">4</text>
<text x="171.6" y="238" font-size="5.2" fill="#444" text-anchor="middle">5</text>
<text x="183.6" y="238" font-size="5.2" fill="#444" text-anchor="middle">6</text>
<text x="195.5" y="238" font-size="5.2" fill="#444" text-anchor="middle">7</text>
<text x="207.5" y="238" font-size="5.2" fill="#444" text-anchor="middle">8</text>
<text x="219.5" y="238" font-size="5.2" fill="#444" text-anchor="middle">9</text>
<text x="231.3" y="238" font-size="5.2" fill="#444" text-anchor="middle">10</text>
<text x="243.3" y="238" font-size="5.2" fill="#444" text-anchor="middle">11</text>
<text x="255.3" y="238" font-size="5.2" fill="#444" text-anchor="middle">12</text>
<text x="264.59" y="234" font-size="5.2" fill="#444" textLength="13.62" lengthAdjust="spacingAndGlyphs">JESS</text>
<g class="ch">
<rect x="389.2" y="116" width="16.9" height="48.4" fill="#5b9bd5"/>
<text x="397.65" y="160.4" font-size="6.9" fill="#fff" text-anchor="middle">1.0</text>
<rect x="414.2" y="119" width="17" height="45.4" fill="#1596b1"/>
<text x="422.7" y="160.4" font-size="6.9" fill="#fff" text-anchor="middle">0.94</text>
<rect x="440.1" y="147.1" width="16.5" height="17.3" fill="#fd9c3c"/>
<text x="448.35" y="160.4" font-size="6.9" fill="#fff" text-anchor="middle">0.33</text>
<rect x="465.1" y="149.2" width="16.6" height="15.2" fill="#c20000"/>
<text x="473.4" y="160.4" font-size="6.9" fill="#fff" text-anchor="middle">0.32</text>
<line x1="393" y1="111.9" x2="401.6" y2="111.9" stroke="#a8a8a8" stroke-width="1"/>
<line x1="419" y1="118" x2="430.5" y2="118" stroke="#a8a8a8" stroke-width="1"/>
<line x1="397.4" y1="111.9" x2="397.4" y2="116" stroke="#a8a8a8" stroke-width="0.8"/>
<circle cx="397.4" cy="111.9" r="1.4" fill="#4f5157"/>
<circle cx="397.4" cy="116.3" r="1.4" fill="#4f5157"/>
<circle cx="397.4" cy="120" r="1.4" fill="#4f5157"/>
<circle cx="417.1" cy="120.3" r="1.4" fill="#4f5157"/>
<circle cx="422.6" cy="118" r="1.4" fill="#4f5157"/>
<circle cx="428.4" cy="118.3" r="1.4" fill="#4f5157"/>
<circle cx="443" cy="148" r="1.4" fill="#4f5157"/>
<circle cx="448.4" cy="146.6" r="1.4" fill="#4f5157"/>
<circle cx="453.8" cy="147.4" r="1.4" fill="#4f5157"/>
<circle cx="468" cy="150.2" r="1.4" fill="#4f5157"/>
<circle cx="473.4" cy="148.8" r="1.4" fill="#4f5157"/>
<circle cx="478.8" cy="149.6" r="1.4" fill="#4f5157"/>
<line x1="380.4" y1="67.6" x2="490.6" y2="67.6" stroke="#111" stroke-width="1.1"/>
<line x1="490.6" y1="67.1" x2="490.6" y2="164.4" stroke="#111" stroke-width="1.1"/>
<line x1="380.4" y1="67.1" x2="380.4" y2="194.3" stroke="#111" stroke-width="1.1"/>
<line x1="377.2" y1="67.6" x2="380.4" y2="67.6" stroke="#111" stroke-width="1"/>
<line x1="377.2" y1="92" x2="380.4" y2="92" stroke="#111" stroke-width="1"/>
<line x1="377.2" y1="116.2" x2="380.4" y2="116.2" stroke="#111" stroke-width="1"/>
<line x1="377.2" y1="140.4" x2="380.4" y2="140.4" stroke="#111" stroke-width="1"/>
<text x="375.8" y="71.98" font-size="9.4" fill="#111" text-anchor="end">2.0</text>
<text x="375.8" y="95.38" font-size="9.4" fill="#111" text-anchor="end">1.5</text>
<text x="375.8" y="119.48" font-size="9.4" fill="#111" text-anchor="end">1.0</text>
<text x="375.8" y="143.58" font-size="9.4" fill="#111" text-anchor="end">0.5</text>
<text x="375.8" y="163.38" font-size="9.4" fill="#111" text-anchor="end">0</text>
<text x="397" y="67.4" font-size="8.4" fill="#111" text-anchor="middle">1</text>
<text x="421.8" y="67.4" font-size="8.4" fill="#111" text-anchor="middle">2</text>
<text x="447.6" y="67.4" font-size="8.4" fill="#111" text-anchor="middle">3</text>
<text x="472.6" y="67.4" font-size="8.4" fill="#111" text-anchor="middle">4</text>
<line x1="396.1" y1="76" x2="472.6" y2="76" stroke="#8c8c8c" stroke-width="1.3"/>
<text class="nos" style="stroke:#222;stroke-width:0.14px" transform="translate(420.79,74.6) skewX(-6)" font-size="6.3" fill="#222" font-style="italic" textLength="3.97" lengthAdjust="spacingAndGlyphs">P</text>
<text class="nos" style="stroke:#222;stroke-width:0.08px" x="426.61" y="74.6" font-size="6.3" fill="#222" textLength="22.91" lengthAdjust="spacingAndGlyphs">&lt; 0.0001</text>
<line x1="396.1" y1="85.3" x2="447.1" y2="85.3" stroke="#8c8c8c" stroke-width="1.3"/>
<text class="nos" style="stroke:#222;stroke-width:0.14px" transform="translate(407.79,83.8) skewX(-6)" font-size="6.3" fill="#222" font-style="italic" textLength="3.83" lengthAdjust="spacingAndGlyphs">P</text>
<text class="nos" style="stroke:#222;stroke-width:0.08px" x="413.41" y="83.8" font-size="6.3" fill="#222" textLength="22.1" lengthAdjust="spacingAndGlyphs">&lt; 0.0001</text>
<line x1="421.5" y1="94.1" x2="472.9" y2="94.1" stroke="#8c8c8c" stroke-width="1.3"/>
<text class="nos" style="stroke:#222;stroke-width:0.14px" transform="translate(432.79,92.7) skewX(-6)" font-size="6.3" fill="#222" font-style="italic" textLength="3.87" lengthAdjust="spacingAndGlyphs">P</text>
<text class="nos" style="stroke:#222;stroke-width:0.08px" x="438.47" y="92.7" font-size="6.3" fill="#222" textLength="22.35" lengthAdjust="spacingAndGlyphs">&lt; 0.0001</text>
<line x1="396.1" y1="102.6" x2="422" y2="102.6" stroke="#8c8c8c" stroke-width="1.3"/>
<text class="nos" style="stroke:#222;stroke-width:0.14px" transform="translate(396.79,100.7) skewX(-6)" font-size="6.3" fill="#222" font-style="italic" textLength="3.98" lengthAdjust="spacingAndGlyphs">P</text>
<text class="nos" style="stroke:#222;stroke-width:0.08px" x="402.63" y="100.7" font-size="6.3" fill="#222" textLength="19.69" lengthAdjust="spacingAndGlyphs">= 0.399</text>
<line x1="421.5" y1="111.1" x2="448" y2="111.1" stroke="#8c8c8c" stroke-width="1.3"/>
<text class="nos" style="stroke:#222;stroke-width:0.14px" transform="translate(419.99,109.6) skewX(-6)" font-size="6.3" fill="#222" font-style="italic" textLength="3.9" lengthAdjust="spacingAndGlyphs">P</text>
<text class="nos" style="stroke:#222;stroke-width:0.08px" x="425.71" y="109.6" font-size="6.3" fill="#222" textLength="22.51" lengthAdjust="spacingAndGlyphs">&lt; 0.0001</text>
<line x1="447" y1="139.2" x2="473" y2="139.2" stroke="#8c8c8c" stroke-width="1.3"/>
<text class="nos" style="stroke:#222;stroke-width:0.14px" transform="translate(447.29,137.9) skewX(-6)" font-size="6.3" fill="#222" font-style="italic" textLength="4.05" lengthAdjust="spacingAndGlyphs">P</text>
<text class="nos" style="stroke:#222;stroke-width:0.08px" x="453.22" y="137.9" font-size="6.3" fill="#222" textLength="20" lengthAdjust="spacingAndGlyphs">= 0.075</text>
<text x="473.12" y="74.45" font-size="6.9" fill="#222" textLength="16.15" lengthAdjust="spacingAndGlyphs">(n=3)</text>
<line x1="320.5" y1="164.4" x2="490.6" y2="164.4" stroke="#111" stroke-width="1.1"/>
<line x1="320.5" y1="175.3" x2="490.6" y2="175.3" stroke="#111" stroke-width="1"/>
<line x1="320.5" y1="184.8" x2="490.6" y2="184.8" stroke="#111" stroke-width="1"/>
<line x1="320" y1="194.3" x2="491.1" y2="194.3" stroke="#111" stroke-width="1.1"/>
<line x1="320.5" y1="164.4" x2="320.5" y2="194.3" stroke="#111" stroke-width="1.1"/>
<line x1="490.6" y1="164.4" x2="490.6" y2="194.3" stroke="#111" stroke-width="1.1"/>
<line x1="380.4" y1="164.4" x2="380.4" y2="194.3" stroke="#111" stroke-width="1"/>
<line x1="410" y1="164.4" x2="410" y2="194.3" stroke="#111" stroke-width="1"/>
<line x1="434.5" y1="164.4" x2="434.5" y2="194.3" stroke="#111" stroke-width="1"/>
<line x1="460.4" y1="164.4" x2="460.4" y2="194.3" stroke="#111" stroke-width="1"/>
<text x="326.47" y="173.2" font-size="8.3" fill="#111" textLength="25.16" lengthAdjust="spacingAndGlyphs">siRNA</text>
<text x="351.47" y="170.8" font-size="5.8" fill="#222" textLength="17.86" lengthAdjust="spacingAndGlyphs">control</text>
<text x="325.67" y="182.8" font-size="8.3" fill="#111" textLength="25.16" lengthAdjust="spacingAndGlyphs">siRNA</text>
<text x="350.67" y="180.4" font-size="5.8" fill="#222" textLength="23.56" lengthAdjust="spacingAndGlyphs">CTNNA3</text>
<text x="327.17" y="192.3" font-size="8.3" fill="#111" textLength="25.16" lengthAdjust="spacingAndGlyphs">siRNA</text>
<text x="352.17" y="189.9" font-size="5.8" fill="#222" textLength="16.06" lengthAdjust="spacingAndGlyphs">fortilin</text>
<path d="M394.1 169.7H400.3M397.2 166.6V172.8" stroke="#111" stroke-width="1.25" fill="none"/>
<path d="M418.5 179.9H424.7M421.6 176.8V183" stroke="#111" stroke-width="1.25" fill="none"/>
<path d="M444.4 179.9H450.6M447.5 176.8V183" stroke="#111" stroke-width="1.25" fill="none"/>
<path d="M444.4 189.4H450.6M447.5 186.3V192.5" stroke="#111" stroke-width="1.25" fill="none"/>
<path d="M469.4 189.4H475.6M472.5 186.3V192.5" stroke="#111" stroke-width="1.25" fill="none"/>
<text transform="translate(345.85,154.58) rotate(-90)" font-size="9.6" fill="#111" textLength="79.77" lengthAdjust="spacingAndGlyphs">Fortilin Expression</text>
<text transform="translate(358.45,140.08) rotate(-90)" font-size="9.6" fill="#111" textLength="51.37" lengthAdjust="spacingAndGlyphs">Level (A.U.)</text>
<text transform="translate(321.06,44) scale(1,1.17)" font-size="26" fill="#000" textLength="16.58" lengthAdjust="spacingAndGlyphs">b</text>
<text transform="translate(496.9,195.5) rotate(-90)" font-size="6.2" fill="#333" textLength="14.8" lengthAdjust="spacingAndGlyphs">JESS</text>
</g>
<g class="ch">
<rect x="577.3" y="117.2" width="16.6" height="47.8" fill="#5b9bd5"/>
<text x="585.6" y="161" font-size="6.9" fill="#fff" text-anchor="middle">1.0</text>
<rect x="602.9" y="137.6" width="16.6" height="27.4" fill="#1596b1"/>
<text x="611.2" y="161" font-size="6.9" fill="#fff" text-anchor="middle">0.6</text>
<rect x="628" y="146.3" width="16.6" height="18.7" fill="#fd9c3c"/>
<text x="636.3" y="161" font-size="6.9" fill="#fff" text-anchor="middle">0.37</text>
<rect x="653.7" y="125.5" width="16.2" height="39.5" fill="#c20000"/>
<text x="661.8" y="161" font-size="6.9" fill="#fff" text-anchor="middle">0.82</text>
<line x1="607" y1="136" x2="615.5" y2="136" stroke="#a8a8a8" stroke-width="1"/>
<line x1="657.5" y1="124.6" x2="666" y2="124.6" stroke="#a8a8a8" stroke-width="1"/>
<circle cx="580.1" cy="117.5" r="1.4" fill="#4f5157"/>
<circle cx="585.5" cy="117.3" r="1.4" fill="#4f5157"/>
<circle cx="591.4" cy="117.5" r="1.4" fill="#4f5157"/>
<circle cx="605.4" cy="138.6" r="1.4" fill="#4f5157"/>
<circle cx="611.2" cy="136.1" r="1.4" fill="#4f5157"/>
<circle cx="616.9" cy="137.8" r="1.4" fill="#4f5157"/>
<circle cx="630.8" cy="147" r="1.4" fill="#4f5157"/>
<circle cx="636.3" cy="146" r="1.4" fill="#4f5157"/>
<circle cx="641.9" cy="146.3" r="1.4" fill="#4f5157"/>
<circle cx="656.3" cy="126.3" r="1.4" fill="#4f5157"/>
<circle cx="662.2" cy="124.4" r="1.4" fill="#4f5157"/>
<circle cx="667.4" cy="125.9" r="1.4" fill="#4f5157"/>
<line x1="568.8" y1="69.4" x2="678.8" y2="69.4" stroke="#111" stroke-width="1.1"/>
<line x1="678.8" y1="68.9" x2="678.8" y2="165" stroke="#111" stroke-width="1.1"/>
<line x1="568.8" y1="68.9" x2="568.8" y2="195" stroke="#111" stroke-width="1.1"/>
<line x1="565.6" y1="69.4" x2="568.8" y2="69.4" stroke="#111" stroke-width="1"/>
<line x1="565.6" y1="93.4" x2="568.8" y2="93.4" stroke="#111" stroke-width="1"/>
<line x1="565.6" y1="117.2" x2="568.8" y2="117.2" stroke="#111" stroke-width="1"/>
<line x1="565.6" y1="141.1" x2="568.8" y2="141.1" stroke="#111" stroke-width="1"/>
<text x="564.4" y="73.28" font-size="9.4" fill="#111" text-anchor="end">2.0</text>
<text x="564.4" y="96.88" font-size="9.4" fill="#111" text-anchor="end">1.5</text>
<text x="564.4" y="120.78" font-size="9.4" fill="#111" text-anchor="end">1.0</text>
<text x="564.4" y="144.58" font-size="9.4" fill="#111" text-anchor="end">0.5</text>
<text x="564.4" y="164.28" font-size="9.4" fill="#111" text-anchor="end">0</text>
<text x="585.2" y="68.6" font-size="8.4" fill="#111" text-anchor="middle">1</text>
<text x="610" y="68.6" font-size="8.4" fill="#111" text-anchor="middle">2</text>
<text x="635.7" y="68.6" font-size="8.4" fill="#111" text-anchor="middle">3</text>
<text x="660.3" y="68.6" font-size="8.4" fill="#111" text-anchor="middle">4</text>
<line x1="584.5" y1="78.4" x2="661.3" y2="78.4" stroke="#8c8c8c" stroke-width="1.3"/>
<text class="nos" style="stroke:#222;stroke-width:0.14px" transform="translate(609.78,76.9) skewX(-6)" font-size="6.3" fill="#222" font-style="italic" textLength="3.82" lengthAdjust="spacingAndGlyphs">P</text>
<text class="nos" style="stroke:#222;stroke-width:0.08px" x="615.39" y="76.9" font-size="6.3" fill="#222" textLength="22.02" lengthAdjust="spacingAndGlyphs">&lt; 0.0001</text>
<line x1="584.5" y1="88.9" x2="635.8" y2="88.9" stroke="#8c8c8c" stroke-width="1.3"/>
<text class="nos" style="stroke:#222;stroke-width:0.14px" transform="translate(596.08,87.4) skewX(-6)" font-size="6.3" fill="#222" font-style="italic" textLength="3.86" lengthAdjust="spacingAndGlyphs">P</text>
<text class="nos" style="stroke:#222;stroke-width:0.08px" x="601.75" y="87.4" font-size="6.3" fill="#222" textLength="22.27" lengthAdjust="spacingAndGlyphs">&lt; 0.0001</text>
<line x1="609.7" y1="98.5" x2="660.8" y2="98.5" stroke="#8c8c8c" stroke-width="1.3"/>
<text class="nos" style="stroke:#222;stroke-width:0.14px" transform="translate(621.78,97.5) skewX(-6)" font-size="6.3" fill="#222" font-style="italic" textLength="3.76" lengthAdjust="spacingAndGlyphs">P</text>
<text class="nos" style="stroke:#222;stroke-width:0.08px" x="627.31" y="97.5" font-size="6.3" fill="#222" textLength="21.7" lengthAdjust="spacingAndGlyphs">&lt; 0.0001</text>
<line x1="584.5" y1="109" x2="610.8" y2="109" stroke="#8c8c8c" stroke-width="1.3"/>
<text class="nos" style="stroke:#222;stroke-width:0.14px" transform="translate(583.68,108) skewX(-6)" font-size="6.3" fill="#222" font-style="italic" textLength="3.86" lengthAdjust="spacingAndGlyphs">P</text>
<text class="nos" style="stroke:#222;stroke-width:0.08px" x="589.35" y="108" font-size="6.3" fill="#222" textLength="22.27" lengthAdjust="spacingAndGlyphs">&lt; 0.0001</text>
<line x1="635" y1="116" x2="661.1" y2="116" stroke="#8c8c8c" stroke-width="1.3"/>
<text class="nos" style="stroke:#222;stroke-width:0.14px" transform="translate(633.99,114.9) skewX(-6)" font-size="6.3" fill="#222" font-style="italic" textLength="3.79" lengthAdjust="spacingAndGlyphs">P</text>
<text class="nos" style="stroke:#222;stroke-width:0.08px" x="639.55" y="114.9" font-size="6.3" fill="#222" textLength="21.86" lengthAdjust="spacingAndGlyphs">&lt; 0.0001</text>
<line x1="608.7" y1="128.2" x2="636.3" y2="128.2" stroke="#8c8c8c" stroke-width="1.3"/>
<text class="nos" style="stroke:#222;stroke-width:0.14px" transform="translate(608.49,126.7) skewX(-6)" font-size="6.3" fill="#222" font-style="italic" textLength="3.88" lengthAdjust="spacingAndGlyphs">P</text>
<text class="nos" style="stroke:#222;stroke-width:0.08px" x="614.19" y="126.7" font-size="6.3" fill="#222" textLength="22.43" lengthAdjust="spacingAndGlyphs">&lt; 0.0001</text>
<text x="661.32" y="75.75" font-size="6.9" fill="#222" textLength="16.65" lengthAdjust="spacingAndGlyphs">(n=3)</text>
<line x1="509.4" y1="165" x2="678.8" y2="165" stroke="#111" stroke-width="1.1"/>
<line x1="509.4" y1="175.6" x2="678.8" y2="175.6" stroke="#111" stroke-width="1"/>
<line x1="509.4" y1="185.1" x2="678.8" y2="185.1" stroke="#111" stroke-width="1"/>
<line x1="508.9" y1="195" x2="679.3" y2="195" stroke="#111" stroke-width="1.1"/>
<line x1="509.4" y1="165" x2="509.4" y2="195" stroke="#111" stroke-width="1.1"/>
<line x1="678.8" y1="165" x2="678.8" y2="195" stroke="#111" stroke-width="1.1"/>
<line x1="568.7" y1="165" x2="568.7" y2="195" stroke="#111" stroke-width="1"/>
<line x1="598.3" y1="165" x2="598.3" y2="195" stroke="#111" stroke-width="1"/>
<line x1="622.6" y1="165" x2="622.6" y2="195" stroke="#111" stroke-width="1"/>
<line x1="649.1" y1="165" x2="649.1" y2="195" stroke="#111" stroke-width="1"/>
<text x="515.27" y="173.6" font-size="8.3" fill="#111" textLength="25.16" lengthAdjust="spacingAndGlyphs">siRNA</text>
<text x="540.27" y="171.2" font-size="5.8" fill="#222" textLength="17.46" lengthAdjust="spacingAndGlyphs">control</text>
<text x="514.47" y="183.2" font-size="8.3" fill="#111" textLength="25.16" lengthAdjust="spacingAndGlyphs">siRNA</text>
<text x="539.47" y="180.8" font-size="5.8" fill="#222" textLength="23.76" lengthAdjust="spacingAndGlyphs">CTNNA3</text>
<text x="515.67" y="192.8" font-size="8.3" fill="#111" textLength="25.16" lengthAdjust="spacingAndGlyphs">siRNA</text>
<text x="540.67" y="190.4" font-size="5.8" fill="#222" textLength="16.06" lengthAdjust="spacingAndGlyphs">fortilin</text>
<path d="M582.4 170.4H588.6M585.5 167.3V173.5" stroke="#111" stroke-width="1.25" fill="none"/>
<path d="M607.1 180.8H613.3M610.2 177.7V183.9" stroke="#111" stroke-width="1.25" fill="none"/>
<path d="M632.7 180.8H638.9M635.8 177.7V183.9" stroke="#111" stroke-width="1.25" fill="none"/>
<path d="M632.7 190.3H638.9M635.8 187.2V193.4" stroke="#111" stroke-width="1.25" fill="none"/>
<path d="M657.4 190.3H663.6M660.5 187.2V193.4" stroke="#111" stroke-width="1.25" fill="none"/>
<text transform="translate(533.25,159.58) rotate(-90)" font-size="9.6" fill="#111" textLength="87.77" lengthAdjust="spacingAndGlyphs">CTNNA3 Expression</text>
<text transform="translate(545.95,141.38) rotate(-90)" font-size="9.6" fill="#111" textLength="52.67" lengthAdjust="spacingAndGlyphs">Level (A.U.)</text>
<text transform="translate(508.68,44) scale(1,1.1)" font-size="28" fill="#000" textLength="16.94" lengthAdjust="spacingAndGlyphs">c</text>
<text transform="translate(685.1,195.4) rotate(-90)" font-size="6.2" fill="#333" textLength="13.8" lengthAdjust="spacingAndGlyphs">JESS</text>
</g>
<g class="ch">
<rect x="105" y="373.6" width="16.7" height="18.5" fill="#5b9bd5"/>
<text x="113.35" y="388.1" font-size="6.9" fill="#fff" text-anchor="middle">1.0</text>
<rect x="130.3" y="355.2" width="16.7" height="36.9" fill="#1596b1"/>
<text x="138.65" y="388.1" font-size="6.9" fill="#fff" text-anchor="middle">1.94</text>
<rect x="155.9" y="338.2" width="16.7" height="53.9" fill="#fd9c3c"/>
<text x="164.25" y="388.1" font-size="6.9" fill="#fff" text-anchor="middle">2.85</text>
<rect x="181" y="344.3" width="16.8" height="47.8" fill="#c20000"/>
<text x="189.4" y="388.1" font-size="6.9" fill="#fff" text-anchor="middle">2.54</text>
<line x1="108.5" y1="371.3" x2="119" y2="371.3" stroke="#a8a8a8" stroke-width="1"/>
<line x1="135" y1="354.2" x2="143.5" y2="354.2" stroke="#a8a8a8" stroke-width="1"/>
<circle cx="110.2" cy="371" r="1.4" fill="#4f5157"/>
<circle cx="110.5" cy="375.6" r="1.4" fill="#4f5157"/>
<circle cx="116.1" cy="373.4" r="1.4" fill="#4f5157"/>
<circle cx="133.3" cy="356.6" r="1.4" fill="#4f5157"/>
<circle cx="138.7" cy="354.2" r="1.4" fill="#4f5157"/>
<circle cx="144.1" cy="355.2" r="1.4" fill="#4f5157"/>
<circle cx="158.4" cy="337.8" r="1.4" fill="#4f5157"/>
<circle cx="163.9" cy="337.8" r="1.4" fill="#4f5157"/>
<circle cx="169.8" cy="337.8" r="1.4" fill="#4f5157"/>
<circle cx="183.9" cy="344" r="1.4" fill="#4f5157"/>
<circle cx="189.3" cy="343.8" r="1.4" fill="#4f5157"/>
<circle cx="194.9" cy="344" r="1.4" fill="#4f5157"/>
<line x1="96.6" y1="296.7" x2="206.4" y2="296.7" stroke="#111" stroke-width="1.1"/>
<line x1="206.4" y1="296.2" x2="206.4" y2="392.1" stroke="#111" stroke-width="1.1"/>
<line x1="96.6" y1="296.2" x2="96.6" y2="423.2" stroke="#111" stroke-width="1.1"/>
<line x1="93.4" y1="296.8" x2="96.6" y2="296.8" stroke="#111" stroke-width="1"/>
<line x1="93.4" y1="315.9" x2="96.6" y2="315.9" stroke="#111" stroke-width="1"/>
<line x1="93.4" y1="335" x2="96.6" y2="335" stroke="#111" stroke-width="1"/>
<line x1="93.4" y1="354" x2="96.6" y2="354" stroke="#111" stroke-width="1"/>
<line x1="93.4" y1="373.1" x2="96.6" y2="373.1" stroke="#111" stroke-width="1"/>
<text x="92" y="299.68" font-size="9.4" fill="#111" text-anchor="end">5</text>
<text x="92" y="318.48" font-size="9.4" fill="#111" text-anchor="end">4</text>
<text x="92" y="338.48" font-size="9.4" fill="#111" text-anchor="end">3</text>
<text x="92" y="357.88" font-size="9.4" fill="#111" text-anchor="end">2</text>
<text x="92" y="376.88" font-size="9.4" fill="#111" text-anchor="end">1</text>
<text x="92" y="392.28" font-size="9.4" fill="#111" text-anchor="end">0</text>
<text x="112.4" y="295.9" font-size="8.4" fill="#111" text-anchor="middle">1</text>
<text x="137" y="295.9" font-size="8.4" fill="#111" text-anchor="middle">2</text>
<text x="163.3" y="295.9" font-size="8.4" fill="#111" text-anchor="middle">3</text>
<text x="187.9" y="295.9" font-size="8.4" fill="#111" text-anchor="middle">4</text>
<line x1="112" y1="303.7" x2="188.7" y2="303.7" stroke="#8c8c8c" stroke-width="1.3"/>
<text class="nos" style="stroke:#222;stroke-width:0.14px" transform="translate(136.78,302.7) skewX(-6)" font-size="6.3" fill="#222" font-style="italic" textLength="3.83" lengthAdjust="spacingAndGlyphs">P</text>
<text class="nos" style="stroke:#222;stroke-width:0.08px" x="142.41" y="302.7" font-size="6.3" fill="#222" textLength="22.1" lengthAdjust="spacingAndGlyphs">&lt; 0.0001</text>
<line x1="112" y1="311.5" x2="163" y2="311.5" stroke="#8c8c8c" stroke-width="1.3"/>
<text class="nos" style="stroke:#222;stroke-width:0.14px" transform="translate(123.19,310.2) skewX(-6)" font-size="6.3" fill="#222" font-style="italic" textLength="3.94" lengthAdjust="spacingAndGlyphs">P</text>
<text class="nos" style="stroke:#222;stroke-width:0.08px" x="128.97" y="310.2" font-size="6.3" fill="#222" textLength="22.75" lengthAdjust="spacingAndGlyphs">&lt; 0.0001</text>
<line x1="137" y1="319.4" x2="188.2" y2="319.4" stroke="#8c8c8c" stroke-width="1.3"/>
<text class="nos" style="stroke:#222;stroke-width:0.14px" transform="translate(148.19,318.1) skewX(-6)" font-size="6.3" fill="#222" font-style="italic" textLength="3.87" lengthAdjust="spacingAndGlyphs">P</text>
<text class="nos" style="stroke:#222;stroke-width:0.08px" x="153.87" y="318.1" font-size="6.3" fill="#222" textLength="22.35" lengthAdjust="spacingAndGlyphs">&lt; 0.0001</text>
<line x1="162.4" y1="327" x2="188.7" y2="327" stroke="#8c8c8c" stroke-width="1.3"/>
<text class="nos" style="stroke:#222;stroke-width:0.14px" transform="translate(160.98,325.6) skewX(-6)" font-size="6.3" fill="#222" font-style="italic" textLength="3.87" lengthAdjust="spacingAndGlyphs">P</text>
<text class="nos" style="stroke:#222;stroke-width:0.08px" x="166.67" y="325.6" font-size="6.3" fill="#222" textLength="22.35" lengthAdjust="spacingAndGlyphs">= 0.0024</text>
<line x1="137" y1="334" x2="163" y2="334" stroke="#8c8c8c" stroke-width="1.3"/>
<text class="nos" style="stroke:#222;stroke-width:0.14px" transform="translate(135.98,333) skewX(-6)" font-size="6.3" fill="#222" font-style="italic" textLength="3.77" lengthAdjust="spacingAndGlyphs">P</text>
<text class="nos" style="stroke:#222;stroke-width:0.08px" x="141.53" y="333" font-size="6.3" fill="#222" textLength="21.78" lengthAdjust="spacingAndGlyphs">&lt; 0.0001</text>
<line x1="111.6" y1="346.9" x2="137.9" y2="346.9" stroke="#8c8c8c" stroke-width="1.3"/>
<text class="nos" style="stroke:#222;stroke-width:0.14px" transform="translate(110.58,345.6) skewX(-6)" font-size="6.3" fill="#222" font-style="italic" textLength="3.88" lengthAdjust="spacingAndGlyphs">P</text>
<text class="nos" style="stroke:#222;stroke-width:0.08px" x="116.29" y="345.6" font-size="6.3" fill="#222" textLength="22.43" lengthAdjust="spacingAndGlyphs">&lt; 0.0001</text>
<text x="189.92" y="428.45" font-size="6.9" fill="#222" textLength="17.25" lengthAdjust="spacingAndGlyphs">(n=3)</text>
<line x1="36.4" y1="392.1" x2="206.4" y2="392.1" stroke="#111" stroke-width="1.1"/>
<line x1="36.4" y1="403.5" x2="206.4" y2="403.5" stroke="#111" stroke-width="1"/>
<line x1="36.4" y1="413.5" x2="206.4" y2="413.5" stroke="#111" stroke-width="1"/>
<line x1="35.9" y1="423.2" x2="206.9" y2="423.2" stroke="#111" stroke-width="1.1"/>
<line x1="36.4" y1="392.1" x2="36.4" y2="423.2" stroke="#111" stroke-width="1.1"/>
<line x1="206.4" y1="392.1" x2="206.4" y2="423.2" stroke="#111" stroke-width="1.1"/>
<line x1="96.4" y1="392.1" x2="96.4" y2="423.2" stroke="#111" stroke-width="1"/>
<line x1="125.5" y1="392.1" x2="125.5" y2="423.2" stroke="#111" stroke-width="1"/>
<line x1="150.6" y1="392.1" x2="150.6" y2="423.2" stroke="#111" stroke-width="1"/>
<line x1="175.8" y1="392.1" x2="175.8" y2="423.2" stroke="#111" stroke-width="1"/>
<text x="42.17" y="401.4" font-size="8.3" fill="#111" textLength="25.16" lengthAdjust="spacingAndGlyphs">siRNA</text>
<text x="67.17" y="399" font-size="5.8" fill="#222" textLength="17.06" lengthAdjust="spacingAndGlyphs">control</text>
<text x="41.47" y="411.5" font-size="8.3" fill="#111" textLength="25.16" lengthAdjust="spacingAndGlyphs">siRNA</text>
<text x="66.47" y="409.1" font-size="5.8" fill="#222" textLength="23.26" lengthAdjust="spacingAndGlyphs">CTNNA3</text>
<text x="42.67" y="421.3" font-size="8.3" fill="#111" textLength="25.16" lengthAdjust="spacingAndGlyphs">siRNA</text>
<text x="67.67" y="418.9" font-size="5.8" fill="#222" textLength="16.56" lengthAdjust="spacingAndGlyphs">fortilin</text>
<path d="M110.2 397.8H116.4M113.3 394.7V400.9" stroke="#111" stroke-width="1.25" fill="none"/>
<path d="M135.5 408.5H141.7M138.6 405.4V411.6" stroke="#111" stroke-width="1.25" fill="none"/>
<path d="M161.1 408.5H167.3M164.2 405.4V411.6" stroke="#111" stroke-width="1.25" fill="none"/>
<path d="M161.1 418.3H167.3M164.2 415.2V421.4" stroke="#111" stroke-width="1.25" fill="none"/>
<path d="M186.2 418.3H192.4M189.3 415.2V421.4" stroke="#111" stroke-width="1.25" fill="none"/>
<text transform="translate(66.65,389.18) rotate(-90)" font-size="9.6" fill="#111" textLength="93.17" lengthAdjust="spacingAndGlyphs">Trypan Blue Positivity</text>
<text transform="translate(77.35,355.78) rotate(-90)" font-size="9.6" fill="#111" textLength="25.57" lengthAdjust="spacingAndGlyphs">(A.U.)</text>
<text transform="translate(36.06,286.4) scale(1,1.17)" font-size="26" fill="#000" textLength="16.58" lengthAdjust="spacingAndGlyphs">d</text>
<text transform="translate(83.51,283.4) scale(1,1.04)" font-size="9.8" fill="#111" textLength="123.08" lengthAdjust="spacingAndGlyphs">Trypan Blue Exclusion Assay</text>
</g>
<g class="ch">
<rect x="318.7" y="378.2" width="17" height="13.6" fill="#5b9bd5"/>
<text x="327.2" y="387.8" font-size="6.9" fill="#fff" text-anchor="middle">1.0</text>
<rect x="343.9" y="366.8" width="16.8" height="25" fill="#1596b1"/>
<text x="352.3" y="387.8" font-size="6.9" fill="#fff" text-anchor="middle">1.86</text>
<rect x="369.5" y="344.4" width="16.6" height="47.4" fill="#fd9c3c"/>
<text x="377.8" y="387.8" font-size="6.9" fill="#fff" text-anchor="middle">3.72</text>
<rect x="394.9" y="354.2" width="17" height="37.6" fill="#c20000"/>
<text x="403.4" y="387.8" font-size="6.9" fill="#fff" text-anchor="middle">2.74</text>
<line x1="373.8" y1="339.6" x2="382" y2="339.6" stroke="#a8a8a8" stroke-width="1"/>
<line x1="377.9" y1="339.6" x2="377.9" y2="351" stroke="#a8a8a8" stroke-width="0.8"/>
<circle cx="321.1" cy="379" r="1.4" fill="#4f5157"/>
<circle cx="326.9" cy="377.8" r="1.4" fill="#4f5157"/>
<circle cx="332.5" cy="378.2" r="1.4" fill="#4f5157"/>
<circle cx="346.5" cy="368" r="1.4" fill="#4f5157"/>
<circle cx="352.3" cy="366.4" r="1.4" fill="#4f5157"/>
<circle cx="357.9" cy="366.8" r="1.4" fill="#4f5157"/>
<circle cx="375.1" cy="341.4" r="1.4" fill="#4f5157"/>
<circle cx="380.9" cy="341.9" r="1.4" fill="#4f5157"/>
<circle cx="377.7" cy="350.7" r="1.4" fill="#4f5157"/>
<circle cx="397.5" cy="354.9" r="1.4" fill="#4f5157"/>
<circle cx="403.5" cy="353.3" r="1.4" fill="#4f5157"/>
<circle cx="409.2" cy="354.9" r="1.4" fill="#4f5157"/>
<line x1="310.3" y1="296.3" x2="420.3" y2="296.3" stroke="#111" stroke-width="1.1"/>
<line x1="420.3" y1="295.8" x2="420.3" y2="391.8" stroke="#111" stroke-width="1.1"/>
<line x1="310.3" y1="295.8" x2="310.3" y2="422.2" stroke="#111" stroke-width="1.1"/>
<line x1="307.1" y1="296.3" x2="310.3" y2="296.3" stroke="#111" stroke-width="1"/>
<line x1="307.1" y1="309.9" x2="310.3" y2="309.9" stroke="#111" stroke-width="1"/>
<line x1="307.1" y1="323.6" x2="310.3" y2="323.6" stroke="#111" stroke-width="1"/>
<line x1="307.1" y1="337.2" x2="310.3" y2="337.2" stroke="#111" stroke-width="1"/>
<line x1="307.1" y1="350.9" x2="310.3" y2="350.9" stroke="#111" stroke-width="1"/>
<line x1="307.1" y1="364.5" x2="310.3" y2="364.5" stroke="#111" stroke-width="1"/>
<line x1="307.1" y1="378.2" x2="310.3" y2="378.2" stroke="#111" stroke-width="1"/>
<text x="305.6" y="300.28" font-size="9.4" fill="#111" text-anchor="end">2.0</text>
<text x="305.6" y="324.28" font-size="9.4" fill="#111" text-anchor="end">1.5</text>
<text x="305.6" y="346.88" font-size="9.4" fill="#111" text-anchor="end">1.0</text>
<text x="305.6" y="370.78" font-size="9.4" fill="#111" text-anchor="end">0.5</text>
<text x="305.6" y="391.28" font-size="9.4" fill="#111" text-anchor="end">0</text>
<text x="326" y="295.4" font-size="8.4" fill="#111" text-anchor="middle">1</text>
<text x="350.9" y="295.4" font-size="8.4" fill="#111" text-anchor="middle">2</text>
<text x="376.8" y="295.4" font-size="8.4" fill="#111" text-anchor="middle">3</text>
<text x="401.4" y="295.4" font-size="8.4" fill="#111" text-anchor="middle">4</text>
<line x1="326" y1="304.2" x2="402.8" y2="304.2" stroke="#8c8c8c" stroke-width="1.3"/>
<text class="nos" style="stroke:#222;stroke-width:0.14px" transform="translate(350.69,302.9) skewX(-6)" font-size="6.3" fill="#222" font-style="italic" textLength="3.9" lengthAdjust="spacingAndGlyphs">P</text>
<text class="nos" style="stroke:#222;stroke-width:0.08px" x="356.41" y="302.9" font-size="6.3" fill="#222" textLength="22.51" lengthAdjust="spacingAndGlyphs">&lt; 0.0001</text>
<line x1="326" y1="312" x2="376.8" y2="312" stroke="#8c8c8c" stroke-width="1.3"/>
<text class="nos" style="stroke:#222;stroke-width:0.14px" transform="translate(337.19,310.6) skewX(-6)" font-size="6.3" fill="#222" font-style="italic" textLength="3.87" lengthAdjust="spacingAndGlyphs">P</text>
<text class="nos" style="stroke:#222;stroke-width:0.08px" x="342.87" y="310.6" font-size="6.3" fill="#222" textLength="22.35" lengthAdjust="spacingAndGlyphs">&lt; 0.0001</text>
<line x1="350.9" y1="320" x2="401.9" y2="320" stroke="#8c8c8c" stroke-width="1.3"/>
<text class="nos" style="stroke:#222;stroke-width:0.14px" transform="translate(362.59,319) skewX(-6)" font-size="6.3" fill="#222" font-style="italic" textLength="3.9" lengthAdjust="spacingAndGlyphs">P</text>
<text class="nos" style="stroke:#222;stroke-width:0.08px" x="368.31" y="319" font-size="6.3" fill="#222" textLength="22.51" lengthAdjust="spacingAndGlyphs">= 0.0021</text>
<line x1="376" y1="328.2" x2="403.1" y2="328.2" stroke="#8c8c8c" stroke-width="1.3"/>
<text class="nos" style="stroke:#222;stroke-width:0.14px" transform="translate(375.79,328.1) skewX(-6)" font-size="6.3" fill="#222" font-style="italic" textLength="3.8" lengthAdjust="spacingAndGlyphs">P</text>
<text class="nos" style="stroke:#222;stroke-width:0.08px" x="381.37" y="328.1" font-size="6.3" fill="#222" textLength="21.94" lengthAdjust="spacingAndGlyphs">= 0.0108</text>
<line x1="350.2" y1="336.2" x2="376.8" y2="336.2" stroke="#8c8c8c" stroke-width="1.3"/>
<text class="nos" style="stroke:#222;stroke-width:0.14px" transform="translate(349.99,335) skewX(-6)" font-size="6.3" fill="#222" font-style="italic" textLength="3.75" lengthAdjust="spacingAndGlyphs">P</text>
<text class="nos" style="stroke:#222;stroke-width:0.08px" x="355.49" y="335" font-size="6.3" fill="#222" textLength="21.62" lengthAdjust="spacingAndGlyphs">&lt; 0.0001</text>
<line x1="325.1" y1="358.9" x2="352.3" y2="358.9" stroke="#8c8c8c" stroke-width="1.3"/>
<text class="nos" style="stroke:#222;stroke-width:0.14px" transform="translate(324.89,357.6) skewX(-6)" font-size="6.3" fill="#222" font-style="italic" textLength="3.83" lengthAdjust="spacingAndGlyphs">P</text>
<text class="nos" style="stroke:#222;stroke-width:0.08px" x="330.51" y="357.6" font-size="6.3" fill="#222" textLength="22.1" lengthAdjust="spacingAndGlyphs">= 0.0046</text>
<text x="404.42" y="428.35" font-size="6.9" fill="#222" textLength="16.45" lengthAdjust="spacingAndGlyphs">(n=3)</text>
<line x1="250.4" y1="391.8" x2="420.3" y2="391.8" stroke="#111" stroke-width="1.1"/>
<line x1="250.4" y1="402.9" x2="420.3" y2="402.9" stroke="#111" stroke-width="1"/>
<line x1="250.4" y1="412.4" x2="420.3" y2="412.4" stroke="#111" stroke-width="1"/>
<line x1="249.9" y1="422.2" x2="420.8" y2="422.2" stroke="#111" stroke-width="1.1"/>
<line x1="250.4" y1="391.8" x2="250.4" y2="422.2" stroke="#111" stroke-width="1.1"/>
<line x1="420.3" y1="391.8" x2="420.3" y2="422.2" stroke="#111" stroke-width="1.1"/>
<line x1="310.2" y1="391.8" x2="310.2" y2="422.2" stroke="#111" stroke-width="1"/>
<line x1="339.2" y1="391.8" x2="339.2" y2="422.2" stroke="#111" stroke-width="1"/>
<line x1="363.6" y1="391.8" x2="363.6" y2="422.2" stroke="#111" stroke-width="1"/>
<line x1="389.7" y1="391.8" x2="389.7" y2="422.2" stroke="#111" stroke-width="1"/>
<text x="256.37" y="401" font-size="8.3" fill="#111" textLength="25.16" lengthAdjust="spacingAndGlyphs">siRNA</text>
<text x="281.37" y="398.6" font-size="5.8" fill="#222" textLength="17.36" lengthAdjust="spacingAndGlyphs">control</text>
<text x="255.67" y="410.8" font-size="8.3" fill="#111" textLength="25.16" lengthAdjust="spacingAndGlyphs">siRNA</text>
<text x="280.67" y="408.4" font-size="5.8" fill="#222" textLength="23.06" lengthAdjust="spacingAndGlyphs">CTNNA3</text>
<text x="256.97" y="420.5" font-size="8.3" fill="#111" textLength="25.16" lengthAdjust="spacingAndGlyphs">siRNA</text>
<text x="281.97" y="418.1" font-size="5.8" fill="#222" textLength="15.76" lengthAdjust="spacingAndGlyphs">fortilin</text>
<path d="M323.7 397.4H329.9M326.8 394.3V400.5" stroke="#111" stroke-width="1.25" fill="none"/>
<path d="M347.9 407.6H354.1M351 404.5V410.7" stroke="#111" stroke-width="1.25" fill="none"/>
<path d="M374.1 407.6H380.3M377.2 404.5V410.7" stroke="#111" stroke-width="1.25" fill="none"/>
<path d="M374.1 417.3H380.3M377.2 414.2V420.4" stroke="#111" stroke-width="1.25" fill="none"/>
<path d="M398.9 417.3H405.1M402 414.2V420.4" stroke="#111" stroke-width="1.25" fill="none"/>
<text transform="translate(273.35,388.08) rotate(-90)" font-size="9.6" fill="#111" textLength="89.57" lengthAdjust="spacingAndGlyphs">Activated Caspase 3</text>
<text transform="translate(286.05,372.88) rotate(-90)" font-size="9.6" fill="#111" textLength="57.87" lengthAdjust="spacingAndGlyphs">Levels (A.U.)</text>
<text x="250.4" y="285.5" font-size="27.5" fill="#000" textLength="17.5" lengthAdjust="spacingAndGlyphs">e</text>
<text transform="translate(298.61,283.1) scale(1,1.04)" font-size="9.8" fill="#111" textLength="117.18" lengthAdjust="spacingAndGlyphs">Activated Caspase 3 Assay</text>
</g>
<g class="ch">
<rect x="522.9" y="382.2" width="17" height="9.4" fill="#5b9bd5"/>
<text x="531.4" y="387.6" font-size="6.9" fill="#fff" text-anchor="middle">1.0</text>
<rect x="547.9" y="370.8" width="17" height="20.8" fill="#1596b1"/>
<text x="556.4" y="387.6" font-size="6.9" fill="#fff" text-anchor="middle">2.21</text>
<rect x="573.7" y="346.6" width="17" height="45" fill="#fd9c3c"/>
<text x="582.2" y="387.6" font-size="6.9" fill="#fff" text-anchor="middle">4.5</text>
<rect x="599.1" y="357.2" width="17" height="34.4" fill="#c20000"/>
<text x="607.6" y="387.6" font-size="6.9" fill="#fff" text-anchor="middle">3.72</text>
<line x1="579" y1="344.8" x2="586" y2="344.8" stroke="#a8a8a8" stroke-width="1"/>
<circle cx="525.9" cy="382.6" r="1.4" fill="#4f5157"/>
<circle cx="531.6" cy="382" r="1.4" fill="#4f5157"/>
<circle cx="536.9" cy="382.6" r="1.4" fill="#4f5157"/>
<circle cx="550.9" cy="371.5" r="1.4" fill="#4f5157"/>
<circle cx="556.7" cy="370.3" r="1.4" fill="#4f5157"/>
<circle cx="562.3" cy="371" r="1.4" fill="#4f5157"/>
<circle cx="579" cy="344.7" r="1.4" fill="#4f5157"/>
<circle cx="585" cy="346.1" r="1.4" fill="#4f5157"/>
<circle cx="579.2" cy="348.8" r="1.4" fill="#4f5157"/>
<circle cx="602.5" cy="357.8" r="1.4" fill="#4f5157"/>
<circle cx="607.6" cy="356.6" r="1.4" fill="#4f5157"/>
<circle cx="612.8" cy="357.6" r="1.4" fill="#4f5157"/>
<line x1="514.4" y1="295.9" x2="624.4" y2="295.9" stroke="#111" stroke-width="1.1"/>
<line x1="624.4" y1="295.4" x2="624.4" y2="391.6" stroke="#111" stroke-width="1.1"/>
<line x1="514.4" y1="295.4" x2="514.4" y2="421.8" stroke="#111" stroke-width="1.1"/>
<line x1="511.2" y1="295.9" x2="514.4" y2="295.9" stroke="#111" stroke-width="1"/>
<line x1="511.2" y1="315.1" x2="514.4" y2="315.1" stroke="#111" stroke-width="1"/>
<line x1="511.2" y1="334.3" x2="514.4" y2="334.3" stroke="#111" stroke-width="1"/>
<line x1="511.2" y1="353.4" x2="514.4" y2="353.4" stroke="#111" stroke-width="1"/>
<line x1="511.2" y1="372.5" x2="514.4" y2="372.5" stroke="#111" stroke-width="1"/>
<text x="509.9" y="299.78" font-size="9.4" fill="#111" text-anchor="end">2.0</text>
<text x="509.9" y="323.08" font-size="9.4" fill="#111" text-anchor="end">1.5</text>
<text x="509.9" y="346.48" font-size="9.4" fill="#111" text-anchor="end">1.0</text>
<text x="509.9" y="369.28" font-size="9.4" fill="#111" text-anchor="end">0.5</text>
<text x="509.9" y="390.78" font-size="9.4" fill="#111" text-anchor="end">0</text>
<text x="530.4" y="295" font-size="8.4" fill="#111" text-anchor="middle">1</text>
<text x="555.6" y="295" font-size="8.4" fill="#111" text-anchor="middle">2</text>
<text x="581.2" y="295" font-size="8.4" fill="#111" text-anchor="middle">3</text>
<text x="605.7" y="295" font-size="8.4" fill="#111" text-anchor="middle">4</text>
<line x1="529.9" y1="304.5" x2="607" y2="304.5" stroke="#8c8c8c" stroke-width="1.3"/>
<text class="nos" style="stroke:#222;stroke-width:0.14px" transform="translate(554.78,303.2) skewX(-6)" font-size="6.3" fill="#222" font-style="italic" textLength="3.86" lengthAdjust="spacingAndGlyphs">P</text>
<text class="nos" style="stroke:#222;stroke-width:0.08px" x="560.45" y="303.2" font-size="6.3" fill="#222" textLength="22.27" lengthAdjust="spacingAndGlyphs">&lt; 0.0001</text>
<line x1="529.9" y1="314.2" x2="581.2" y2="314.2" stroke="#8c8c8c" stroke-width="1.3"/>
<text class="nos" style="stroke:#222;stroke-width:0.14px" transform="translate(541.38,313.2) skewX(-6)" font-size="6.3" fill="#222" font-style="italic" textLength="3.9" lengthAdjust="spacingAndGlyphs">P</text>
<text class="nos" style="stroke:#222;stroke-width:0.08px" x="547.11" y="313.2" font-size="6.3" fill="#222" textLength="22.51" lengthAdjust="spacingAndGlyphs">&lt; 0.0001</text>
<line x1="555" y1="322.9" x2="606.5" y2="322.9" stroke="#8c8c8c" stroke-width="1.3"/>
<text class="nos" style="stroke:#222;stroke-width:0.14px" transform="translate(566.99,322.2) skewX(-6)" font-size="6.3" fill="#222" font-style="italic" textLength="3.83" lengthAdjust="spacingAndGlyphs">P</text>
<text class="nos" style="stroke:#222;stroke-width:0.08px" x="572.61" y="322.2" font-size="6.3" fill="#222" textLength="22.1" lengthAdjust="spacingAndGlyphs">&lt; 0.0001</text>
<line x1="579.8" y1="332.6" x2="607" y2="332.6" stroke="#8c8c8c" stroke-width="1.3"/>
<text class="nos" style="stroke:#222;stroke-width:0.14px" transform="translate(579.58,332.2) skewX(-6)" font-size="6.3" fill="#222" font-style="italic" textLength="3.83" lengthAdjust="spacingAndGlyphs">P</text>
<text class="nos" style="stroke:#222;stroke-width:0.08px" x="585.21" y="332.2" font-size="6.3" fill="#222" textLength="22.1" lengthAdjust="spacingAndGlyphs">&lt; 0.0001</text>
<line x1="555" y1="341.1" x2="581.6" y2="341.1" stroke="#8c8c8c" stroke-width="1.3"/>
<text class="nos" style="stroke:#222;stroke-width:0.14px" transform="translate(554.78,339.9) skewX(-6)" font-size="6.3" fill="#222" font-style="italic" textLength="3.75" lengthAdjust="spacingAndGlyphs">P</text>
<text class="nos" style="stroke:#222;stroke-width:0.08px" x="560.29" y="339.9" font-size="6.3" fill="#222" textLength="21.62" lengthAdjust="spacingAndGlyphs">&lt; 0.0001</text>
<line x1="529.9" y1="363.6" x2="556.2" y2="363.6" stroke="#8c8c8c" stroke-width="1.3"/>
<text class="nos" style="stroke:#222;stroke-width:0.14px" transform="translate(529.68,362.9) skewX(-6)" font-size="6.3" fill="#222" font-style="italic" textLength="3.71" lengthAdjust="spacingAndGlyphs">P</text>
<text class="nos" style="stroke:#222;stroke-width:0.08px" x="535.14" y="362.9" font-size="6.3" fill="#222" textLength="21.38" lengthAdjust="spacingAndGlyphs">&lt; 0.0001</text>
<text x="608.62" y="428.35" font-size="6.9" fill="#222" textLength="16.65" lengthAdjust="spacingAndGlyphs">(n=3)</text>
<line x1="454.4" y1="391.6" x2="624.4" y2="391.6" stroke="#111" stroke-width="1.1"/>
<line x1="454.4" y1="402.8" x2="624.4" y2="402.8" stroke="#111" stroke-width="1"/>
<line x1="454.4" y1="412.3" x2="624.4" y2="412.3" stroke="#111" stroke-width="1"/>
<line x1="453.9" y1="421.8" x2="624.9" y2="421.8" stroke="#111" stroke-width="1.1"/>
<line x1="454.4" y1="391.6" x2="454.4" y2="421.8" stroke="#111" stroke-width="1.1"/>
<line x1="624.4" y1="391.6" x2="624.4" y2="421.8" stroke="#111" stroke-width="1.1"/>
<line x1="514.2" y1="391.6" x2="514.2" y2="421.8" stroke="#111" stroke-width="1"/>
<line x1="543.4" y1="391.6" x2="543.4" y2="421.8" stroke="#111" stroke-width="1"/>
<line x1="568.5" y1="391.6" x2="568.5" y2="421.8" stroke="#111" stroke-width="1"/>
<line x1="594.6" y1="391.6" x2="594.6" y2="421.8" stroke="#111" stroke-width="1"/>
<text x="460.67" y="400.8" font-size="8.3" fill="#111" textLength="25.16" lengthAdjust="spacingAndGlyphs">siRNA</text>
<text x="485.67" y="398.4" font-size="5.8" fill="#222" textLength="17.56" lengthAdjust="spacingAndGlyphs">control</text>
<text x="459.97" y="410.6" font-size="8.3" fill="#111" textLength="25.16" lengthAdjust="spacingAndGlyphs">siRNA</text>
<text x="484.97" y="408.2" font-size="5.8" fill="#222" textLength="23.26" lengthAdjust="spacingAndGlyphs">CTNNA3</text>
<text x="461.17" y="420.3" font-size="8.3" fill="#111" textLength="25.16" lengthAdjust="spacingAndGlyphs">siRNA</text>
<text x="486.17" y="417.9" font-size="5.8" fill="#222" textLength="16.06" lengthAdjust="spacingAndGlyphs">fortilin</text>
<path d="M527.9 397.2H534.1M531 394.1V400.3" stroke="#111" stroke-width="1.25" fill="none"/>
<path d="M553.3 407H559.5M556.4 403.9V410.1" stroke="#111" stroke-width="1.25" fill="none"/>
<path d="M578.4 407H584.6M581.5 403.9V410.1" stroke="#111" stroke-width="1.25" fill="none"/>
<path d="M578.4 416.8H584.6M581.5 413.7V419.9" stroke="#111" stroke-width="1.25" fill="none"/>
<path d="M603.3 416.8H609.5M606.4 413.7V419.9" stroke="#111" stroke-width="1.25" fill="none"/>
<text transform="translate(480.15,384.88) rotate(-90)" font-size="9.6" fill="#111" textLength="85.97" lengthAdjust="spacingAndGlyphs">DNA Fragmentation</text>
<text transform="translate(491.15,371.58) rotate(-90)" font-size="9.6" fill="#111" textLength="56.07" lengthAdjust="spacingAndGlyphs">Levels (A.U.)</text>
<text transform="translate(460.72,287.2) scale(1,1.17)" font-size="27" fill="#000" textLength="11.46" lengthAdjust="spacingAndGlyphs">f</text>
<text transform="translate(507.01,282.6) scale(1,1.04)" font-size="9.8" fill="#111" textLength="112.58" lengthAdjust="spacingAndGlyphs">DNA Fragmentation Assay</text>
</g>
</g>
</svg>
</body></html>
